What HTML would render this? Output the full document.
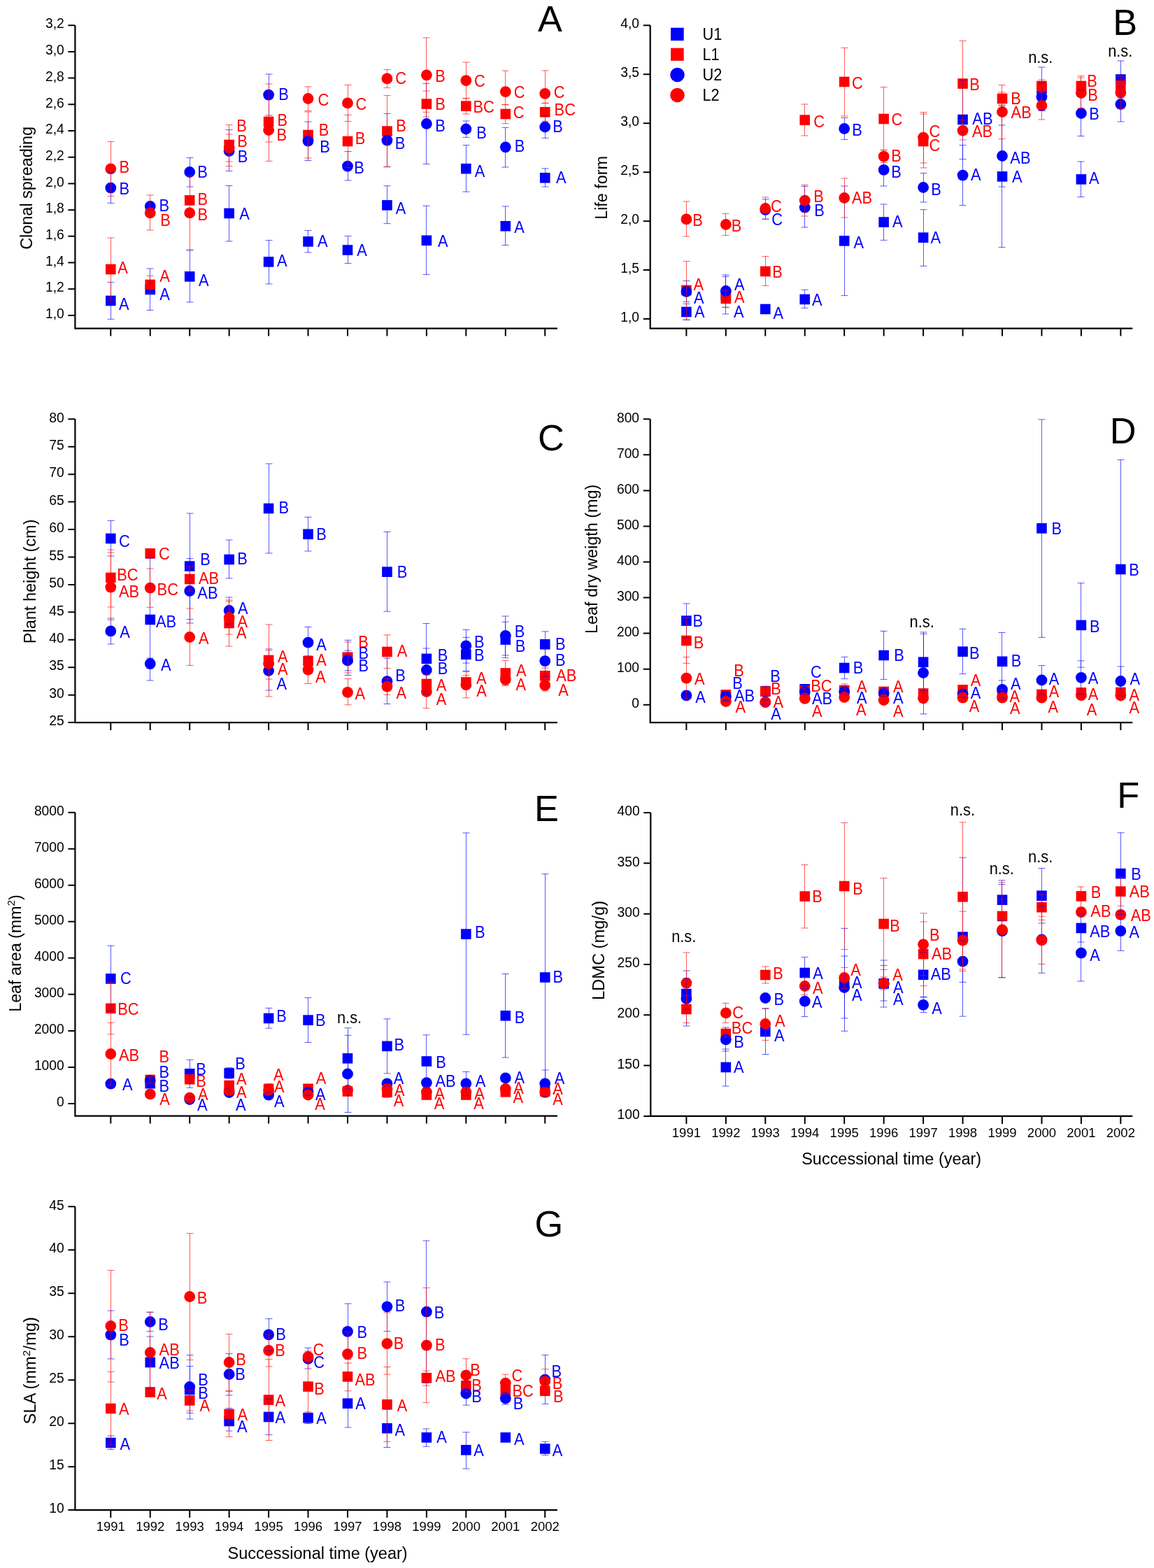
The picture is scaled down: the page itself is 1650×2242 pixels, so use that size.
<!DOCTYPE html>
<html><head><meta charset="utf-8"><title>Figure</title>
<style>
html,body{margin:0;padding:0;background:#fff;}
svg{display:block;}
text{font-family:"Liberation Sans", Arial, sans-serif;}
.tl{font-size:19.3px;text-anchor:end;fill:#000;}
.yl{font-size:18.5px;text-anchor:middle;fill:#000;}
.at{font-size:23px;fill:#000;}
.xt{font-size:23px;fill:#000;}
.pl{font-size:52.3px;fill:#000;}
.lb,.lg,.ns{font-size:23.0px;}
.lg,.ns{fill:#000;}
.b{fill:#0000ff;} .r{fill:#ff0000;}
</style></head>
<body>
<svg width="1650" height="2242" viewBox="0 0 1650 2242">
<rect width="1650" height="2242" fill="#fff"/>
<path d="M107.4 36.2V469.6H797" fill="none" stroke="#000" stroke-width="2.2"/>
<path d="M97.4 451H107.4M97.4 413.29H107.4M97.4 375.58H107.4M97.4 337.87H107.4M97.4 300.16H107.4M97.4 262.45H107.4M97.4 224.75H107.4M97.4 187.04H107.4M97.4 149.33H107.4M97.4 111.62H107.4M97.4 73.91H107.4M97.4 36.2H107.4" stroke="#000" stroke-width="2"/>
<path d="M158.3 469.6V480.6M214.75 469.6V480.6M271.2 469.6V480.6M327.65 469.6V480.6M384.1 469.6V480.6M440.55 469.6V480.6M497 469.6V480.6M553.45 469.6V480.6M609.9 469.6V480.6M666.35 469.6V480.6M722.8 469.6V480.6M779.25 469.6V480.6" stroke="#000" stroke-width="2"/>
<text x="91.8" y="455.2" class="tl">1,0</text>
<text x="91.8" y="417.49" class="tl">1,2</text>
<text x="91.8" y="379.78" class="tl">1,4</text>
<text x="91.8" y="342.07" class="tl">1,6</text>
<text x="91.8" y="304.36" class="tl">1,8</text>
<text x="91.8" y="266.65" class="tl">2,0</text>
<text x="91.8" y="228.95" class="tl">2,2</text>
<text x="91.8" y="191.24" class="tl">2,4</text>
<text x="91.8" y="153.53" class="tl">2,6</text>
<text x="91.8" y="115.82" class="tl">2,8</text>
<text x="91.8" y="78.11" class="tl">3,0</text>
<text x="91.8" y="40.4" class="tl">3,2</text>
<text class="at" textLength="175.75" lengthAdjust="spacingAndGlyphs" transform="translate(46.4 356.79) rotate(-90)">Clonal spreading</text>
<text class="pl" x="769.1" y="45.3">A</text>
<path d="M929.7 36.2V469.6H1619.3" fill="none" stroke="#000" stroke-width="2.2"/>
<path d="M919.7 456.1H929.7M919.7 386.12H929.7M919.7 316.13H929.7M919.7 246.15H929.7M919.7 176.17H929.7M919.7 106.18H929.7M919.7 36.2H929.7" stroke="#000" stroke-width="2"/>
<path d="M981.4 469.6V480.6M1037.85 469.6V480.6M1094.3 469.6V480.6M1150.75 469.6V480.6M1207.2 469.6V480.6M1263.65 469.6V480.6M1320.1 469.6V480.6M1376.55 469.6V480.6M1433 469.6V480.6M1489.45 469.6V480.6M1545.9 469.6V480.6M1602.35 469.6V480.6" stroke="#000" stroke-width="2"/>
<text x="914.1" y="460.3" class="tl">1,0</text>
<text x="914.1" y="390.32" class="tl">1,5</text>
<text x="914.1" y="320.33" class="tl">2,0</text>
<text x="914.1" y="250.35" class="tl">2,5</text>
<text x="914.1" y="180.37" class="tl">3,0</text>
<text x="914.1" y="110.38" class="tl">3,5</text>
<text x="914.1" y="40.4" class="tl">4,0</text>
<text class="at" textLength="90.92" lengthAdjust="spacingAndGlyphs" transform="translate(868.4 313.84) rotate(-90)">Life form</text>
<text class="pl" x="1591.2" y="50.2">B</text>
<path d="M107.4 599.3V1033.1H797" fill="none" stroke="#000" stroke-width="2.2"/>
<path d="M97.4 1033.1H107.4M97.4 993.66H107.4M97.4 954.23H107.4M97.4 914.79H107.4M97.4 875.35H107.4M97.4 835.92H107.4M97.4 796.48H107.4M97.4 757.05H107.4M97.4 717.61H107.4M97.4 678.17H107.4M97.4 638.74H107.4M97.4 599.3H107.4" stroke="#000" stroke-width="2"/>
<path d="M158.3 1033.1V1044.1M214.75 1033.1V1044.1M271.2 1033.1V1044.1M327.65 1033.1V1044.1M384.1 1033.1V1044.1M440.55 1033.1V1044.1M497 1033.1V1044.1M553.45 1033.1V1044.1M609.9 1033.1V1044.1M666.35 1033.1V1044.1M722.8 1033.1V1044.1M779.25 1033.1V1044.1" stroke="#000" stroke-width="2"/>
<text x="91.8" y="1037.3" class="tl">25</text>
<text x="91.8" y="997.86" class="tl">30</text>
<text x="91.8" y="958.43" class="tl">35</text>
<text x="91.8" y="918.99" class="tl">40</text>
<text x="91.8" y="879.55" class="tl">45</text>
<text x="91.8" y="840.12" class="tl">50</text>
<text x="91.8" y="800.68" class="tl">55</text>
<text x="91.8" y="761.25" class="tl">60</text>
<text x="91.8" y="721.81" class="tl">65</text>
<text x="91.8" y="682.37" class="tl">70</text>
<text x="91.8" y="642.94" class="tl">75</text>
<text x="91.8" y="603.5" class="tl">80</text>
<text class="at" textLength="177.69" lengthAdjust="spacingAndGlyphs" transform="translate(51.2 920.2) rotate(-90)">Plant height (cm)</text>
<text class="pl" x="768.9" y="643.8">C</text>
<path d="M929.7 599.3V1033.1H1619.3" fill="none" stroke="#000" stroke-width="2.2"/>
<path d="M919.7 1007.7H929.7M919.7 956.65H929.7M919.7 905.6H929.7M919.7 854.55H929.7M919.7 803.5H929.7M919.7 752.45H929.7M919.7 701.4H929.7M919.7 650.35H929.7M919.7 599.3H929.7" stroke="#000" stroke-width="2"/>
<path d="M981.4 1033.1V1044.1M1037.85 1033.1V1044.1M1094.3 1033.1V1044.1M1150.75 1033.1V1044.1M1207.2 1033.1V1044.1M1263.65 1033.1V1044.1M1320.1 1033.1V1044.1M1376.55 1033.1V1044.1M1433 1033.1V1044.1M1489.45 1033.1V1044.1M1545.9 1033.1V1044.1M1602.35 1033.1V1044.1" stroke="#000" stroke-width="2"/>
<text x="914.1" y="1011.9" class="tl">0</text>
<text x="914.1" y="960.85" class="tl">100</text>
<text x="914.1" y="909.8" class="tl">200</text>
<text x="914.1" y="858.75" class="tl">300</text>
<text x="914.1" y="807.7" class="tl">400</text>
<text x="914.1" y="756.65" class="tl">500</text>
<text x="914.1" y="705.6" class="tl">600</text>
<text x="914.1" y="654.55" class="tl">700</text>
<text x="914.1" y="603.5" class="tl">800</text>
<text class="at" textLength="213.4" lengthAdjust="spacingAndGlyphs" transform="translate(853.5 905.99) rotate(-90)">Leaf dry weigth (mg)</text>
<text class="pl" x="1586.8" y="634.2">D</text>
<path d="M107.4 1161.8V1595.6H797" fill="none" stroke="#000" stroke-width="2.2"/>
<path d="M97.4 1577.9H107.4M97.4 1525.89H107.4M97.4 1473.88H107.4M97.4 1421.86H107.4M97.4 1369.85H107.4M97.4 1317.84H107.4M97.4 1265.82H107.4M97.4 1213.81H107.4M97.4 1161.8H107.4" stroke="#000" stroke-width="2"/>
<path d="M158.3 1595.6V1606.6M214.75 1595.6V1606.6M271.2 1595.6V1606.6M327.65 1595.6V1606.6M384.1 1595.6V1606.6M440.55 1595.6V1606.6M497 1595.6V1606.6M553.45 1595.6V1606.6M609.9 1595.6V1606.6M666.35 1595.6V1606.6M722.8 1595.6V1606.6M779.25 1595.6V1606.6" stroke="#000" stroke-width="2"/>
<text x="91.8" y="1582.1" class="tl">0</text>
<text x="91.8" y="1530.09" class="tl">1000</text>
<text x="91.8" y="1478.08" class="tl">2000</text>
<text x="91.8" y="1426.06" class="tl">3000</text>
<text x="91.8" y="1374.05" class="tl">4000</text>
<text x="91.8" y="1322.04" class="tl">5000</text>
<text x="91.8" y="1270.02" class="tl">6000</text>
<text x="91.8" y="1218.01" class="tl">7000</text>
<text x="91.8" y="1166" class="tl">8000</text>
<text class="at" textLength="167.6" lengthAdjust="spacingAndGlyphs" transform="translate(29.5 1446.8) rotate(-90)">Leaf area (mm<tspan dy="-8.5" font-size="15">2</tspan><tspan dy="8.5">)</tspan></text>
<text class="pl" x="764.1" y="1173.5">E</text>
<path d="M930.3 1162V1595.9H1619.3" fill="none" stroke="#000" stroke-width="2.2"/>
<path d="M920.3 1595.9H930.3M920.3 1523.58H930.3M920.3 1451.27H930.3M920.3 1378.95H930.3M920.3 1306.63H930.3M920.3 1234.32H930.3M920.3 1162H930.3" stroke="#000" stroke-width="2"/>
<path d="M981.4 1595.9V1606.9M1037.85 1595.9V1606.9M1094.3 1595.9V1606.9M1150.75 1595.9V1606.9M1207.2 1595.9V1606.9M1263.65 1595.9V1606.9M1320.1 1595.9V1606.9M1376.55 1595.9V1606.9M1433 1595.9V1606.9M1489.45 1595.9V1606.9M1545.9 1595.9V1606.9M1602.35 1595.9V1606.9" stroke="#000" stroke-width="2"/>
<text x="914.7" y="1600.1" class="tl">100</text>
<text x="914.7" y="1527.78" class="tl">150</text>
<text x="914.7" y="1455.47" class="tl">200</text>
<text x="914.7" y="1383.15" class="tl">250</text>
<text x="914.7" y="1310.83" class="tl">300</text>
<text x="914.7" y="1238.52" class="tl">350</text>
<text x="914.7" y="1166.2" class="tl">400</text>
<text class="at" textLength="142.21" lengthAdjust="spacingAndGlyphs" transform="translate(863.5 1430.12) rotate(-90)">LDMC (mg/g)</text>
<text class="pl" x="1597.2" y="1154.5">F</text>
<path d="M107.4 1725.3V2159.1H797" fill="none" stroke="#000" stroke-width="2.2"/>
<path d="M97.4 2159.1H107.4M97.4 2097.13H107.4M97.4 2035.16H107.4M97.4 1973.19H107.4M97.4 1911.21H107.4M97.4 1849.24H107.4M97.4 1787.27H107.4M97.4 1725.3H107.4" stroke="#000" stroke-width="2"/>
<path d="M158.3 2159.1V2170.1M214.75 2159.1V2170.1M271.2 2159.1V2170.1M327.65 2159.1V2170.1M384.1 2159.1V2170.1M440.55 2159.1V2170.1M497 2159.1V2170.1M553.45 2159.1V2170.1M609.9 2159.1V2170.1M666.35 2159.1V2170.1M722.8 2159.1V2170.1M779.25 2159.1V2170.1" stroke="#000" stroke-width="2"/>
<text x="91.8" y="2163.3" class="tl">10</text>
<text x="91.8" y="2101.33" class="tl">15</text>
<text x="91.8" y="2039.36" class="tl">20</text>
<text x="91.8" y="1977.39" class="tl">25</text>
<text x="91.8" y="1915.41" class="tl">30</text>
<text x="91.8" y="1853.44" class="tl">35</text>
<text x="91.8" y="1791.47" class="tl">40</text>
<text x="91.8" y="1729.5" class="tl">45</text>
<text class="at" textLength="153.41" lengthAdjust="spacingAndGlyphs" transform="translate(51 2036.6) rotate(-90)">SLA (mm<tspan dy="-8.5" font-size="15">2</tspan><tspan dy="8.5">/mg)</tspan></text>
<text class="pl" x="764.4" y="1768.2">G</text>
<rect x="959.1" y="39.7" width="18.6" height="18.4" fill="#0000ff"/>
<rect x="959.1" y="68.7" width="18.6" height="18.2" fill="#ff0000"/>
<circle cx="968.5" cy="107" r="10.3" fill="#0000ff"/>
<circle cx="968.5" cy="136" r="10.3" fill="#ff0000"/>
<text class="lg" transform="translate(1004.52 56.85) scale(0.95 1)">U1</text>
<text class="lg" transform="translate(1004.41 85.65) scale(0.95 1)">L1</text>
<text class="lg" transform="translate(1004.52 114.5) scale(0.95 1)">U2</text>
<text class="lg" transform="translate(1004.41 143.5) scale(0.95 1)">L2</text>
<rect x="151" y="422.7" width="14.6" height="14.6" fill="#0000ff"/>
<rect x="207.45" y="406.7" width="14.6" height="14.6" fill="#0000ff"/>
<rect x="263.9" y="388.1" width="14.6" height="14.6" fill="#0000ff"/>
<rect x="320.35" y="297.7" width="14.6" height="14.6" fill="#0000ff"/>
<rect x="376.8" y="367.1" width="14.6" height="14.6" fill="#0000ff"/>
<rect x="433.25" y="338.1" width="14.6" height="14.6" fill="#0000ff"/>
<rect x="489.7" y="350.2" width="14.6" height="14.6" fill="#0000ff"/>
<rect x="546.15" y="286.1" width="14.6" height="14.6" fill="#0000ff"/>
<rect x="602.6" y="336.5" width="14.6" height="14.6" fill="#0000ff"/>
<rect x="659.05" y="233.9" width="14.6" height="14.6" fill="#0000ff"/>
<rect x="715.5" y="316" width="14.6" height="14.6" fill="#0000ff"/>
<rect x="771.95" y="247" width="14.6" height="14.6" fill="#0000ff"/>
<rect x="151" y="377.7" width="14.6" height="14.6" fill="#ff0000"/>
<rect x="207.45" y="399.7" width="14.6" height="14.6" fill="#ff0000"/>
<rect x="263.9" y="279.1" width="14.6" height="14.6" fill="#ff0000"/>
<rect x="320.35" y="199.7" width="14.6" height="14.6" fill="#ff0000"/>
<rect x="376.8" y="166.7" width="14.6" height="14.6" fill="#ff0000"/>
<rect x="433.25" y="185.7" width="14.6" height="14.6" fill="#ff0000"/>
<rect x="489.7" y="194.7" width="14.6" height="14.6" fill="#ff0000"/>
<rect x="546.15" y="180.3" width="14.6" height="14.6" fill="#ff0000"/>
<rect x="602.6" y="141.3" width="14.6" height="14.6" fill="#ff0000"/>
<rect x="659.05" y="144.4" width="14.6" height="14.6" fill="#ff0000"/>
<rect x="715.5" y="155.7" width="14.6" height="14.6" fill="#ff0000"/>
<rect x="771.95" y="153" width="14.6" height="14.6" fill="#ff0000"/>
<circle cx="158.3" cy="268.6" r="7.9" fill="#0000ff"/>
<circle cx="214.75" cy="295" r="7.9" fill="#0000ff"/>
<circle cx="271.2" cy="246" r="7.9" fill="#0000ff"/>
<circle cx="327.65" cy="216" r="7.9" fill="#0000ff"/>
<circle cx="384.1" cy="135.6" r="7.9" fill="#0000ff"/>
<circle cx="440.55" cy="201.6" r="7.9" fill="#0000ff"/>
<circle cx="497" cy="237.6" r="7.9" fill="#0000ff"/>
<circle cx="553.45" cy="200.6" r="7.9" fill="#0000ff"/>
<circle cx="609.9" cy="177" r="7.9" fill="#0000ff"/>
<circle cx="666.35" cy="184.5" r="7.9" fill="#0000ff"/>
<circle cx="722.8" cy="210.3" r="7.9" fill="#0000ff"/>
<circle cx="779.25" cy="181.5" r="7.9" fill="#0000ff"/>
<circle cx="158.3" cy="241.4" r="7.9" fill="#ff0000"/>
<circle cx="214.75" cy="304.4" r="7.9" fill="#ff0000"/>
<circle cx="271.2" cy="304.4" r="7.9" fill="#ff0000"/>
<circle cx="327.65" cy="211.6" r="7.9" fill="#ff0000"/>
<circle cx="384.1" cy="186" r="7.9" fill="#ff0000"/>
<circle cx="440.55" cy="141" r="7.9" fill="#ff0000"/>
<circle cx="497" cy="147.4" r="7.9" fill="#ff0000"/>
<circle cx="553.45" cy="112.4" r="7.9" fill="#ff0000"/>
<circle cx="609.9" cy="107.3" r="7.9" fill="#ff0000"/>
<circle cx="666.35" cy="115.2" r="7.9" fill="#ff0000"/>
<circle cx="722.8" cy="131.2" r="7.9" fill="#ff0000"/>
<circle cx="779.25" cy="133.8" r="7.9" fill="#ff0000"/>
<path d="M158.5 403.6V456.4M153.5 403.6H163.5M153.5 456.4H163.5M214.5 384V443.6M209.5 384H219.5M209.5 443.6H219.5M271.5 358V432M266.5 358H276.5M266.5 432H276.5M327.5 265.4V345M322.5 265.4H332.5M322.5 345H332.5M384.5 343.6V406M379.5 343.6H389.5M379.5 406H389.5M440.5 329.6V361M435.5 329.6H445.5M435.5 361H445.5M497.5 337.6V376.6M492.5 337.6H502.5M492.5 376.6H502.5M553.5 265.8V319.7M548.5 265.8H558.5M548.5 319.7H558.5M609.5 294.4V392.6M604.5 294.4H614.5M604.5 392.6H614.5M666.5 207.6V274.2M661.5 207.6H671.5M661.5 274.2H671.5M722.5 295V350.5M717.5 295H727.5M717.5 350.5H727.5M779.5 240.9V267.1M774.5 240.9H784.5M774.5 267.1H784.5M158.5 246.6V290.4M153.5 246.6H163.5M153.5 290.4H163.5M214.5 290V300M209.5 290H219.5M209.5 300H219.5M271.5 225.6V267M266.5 225.6H276.5M266.5 267H276.5M327.5 185.6V244.6M322.5 185.6H332.5M322.5 244.6H332.5M384.5 106V165M379.5 106H389.5M379.5 165H389.5M440.5 174V229.6M435.5 174H445.5M435.5 229.6H445.5M497.5 216.6V258M492.5 216.6H502.5M492.5 258H502.5M553.5 162.4V238.6M548.5 162.4H558.5M548.5 238.6H558.5M609.5 119.4V234.5M604.5 119.4H614.5M604.5 234.5H614.5M666.5 172.9V196.4M661.5 172.9H671.5M661.5 196.4H671.5M722.5 182.3V239M717.5 182.3H727.5M717.5 239H727.5M779.5 165.6V197.4M774.5 165.6H784.5M774.5 197.4H784.5" stroke="#0000ff" stroke-opacity="0.65" stroke-width="1" fill="none"/>
<path d="M158.5 340V430M153.5 340H163.5M153.5 430H163.5M214.5 394.4V419.6M209.5 394.4H219.5M209.5 419.6H219.5M271.5 281V292M266.5 281H276.5M266.5 292H276.5M327.5 178.6V237.6M322.5 178.6H332.5M322.5 237.6H332.5M384.5 120V230.4M379.5 120H389.5M379.5 230.4H389.5M440.5 160V226M435.5 160H445.5M435.5 226H445.5M497.5 164.4V239.6M492.5 164.4H502.5M492.5 239.6H502.5M553.5 136.6V238.6M548.5 136.6H558.5M548.5 238.6H558.5M609.5 130V167M604.5 130H614.5M604.5 167H614.5M666.5 140.6V163M661.5 140.6H671.5M661.5 163H671.5M722.5 149.7V176.7M717.5 149.7H727.5M717.5 176.7H727.5M779.5 147.4V173.2M774.5 147.4H784.5M774.5 173.2H784.5M158.5 202.4V280.6M153.5 202.4H163.5M153.5 280.6H163.5M214.5 279V329M209.5 279H219.5M209.5 329H219.5M271.5 251.4V357M266.5 251.4H276.5M266.5 357H276.5M327.5 192V231M322.5 192H332.5M322.5 231H332.5M384.5 169V203M379.5 169H389.5M379.5 203H389.5M440.5 124V158.6M435.5 124H445.5M435.5 158.6H445.5M497.5 121.4V173.6M492.5 121.4H502.5M492.5 173.6H502.5M553.5 99.4V125.6M548.5 99.4H558.5M548.5 125.6H558.5M609.5 54V160.3M604.5 54H614.5M604.5 160.3H614.5M666.5 89V140.6M661.5 89H671.5M661.5 140.6H671.5M722.5 101.2V149.7M717.5 101.2H727.5M717.5 149.7H727.5M779.5 100.9V147.4M774.5 100.9H784.5M774.5 147.4H784.5" stroke="#ff0000" stroke-opacity="0.65" stroke-width="1" fill="none"/>
<text class="lb b" transform="translate(169.96 443) scale(0.95 1)">A</text>
<text class="lb b" transform="translate(228.36 429) scale(0.95 1)">A</text>
<text class="lb b" transform="translate(283.96 409) scale(0.95 1)">A</text>
<text class="lb b" transform="translate(342.36 314) scale(0.95 1)">A</text>
<text class="lb b" transform="translate(395.96 381) scale(0.95 1)">A</text>
<text class="lb b" transform="translate(453.96 353) scale(0.95 1)">A</text>
<text class="lb b" transform="translate(510.36 365.7) scale(0.95 1)">A</text>
<text class="lb b" transform="translate(565.66 305.8) scale(0.95 1)">A</text>
<text class="lb b" transform="translate(625.96 353.3) scale(0.95 1)">A</text>
<text class="lb b" transform="translate(678.76 253) scale(0.95 1)">A</text>
<text class="lb b" transform="translate(735.26 333.3) scale(0.95 1)">A</text>
<text class="lb b" transform="translate(794.96 262) scale(0.95 1)">A</text>
<text class="lb r" transform="translate(168.36 390.6) scale(0.95 1)">A</text>
<text class="lb r" transform="translate(228.36 402.6) scale(0.95 1)">A</text>
<text class="lb r" transform="translate(282.61 293) scale(0.95 1)">B</text>
<text class="lb r" transform="translate(339.21 210) scale(0.95 1)">B</text>
<text class="lb r" transform="translate(396.61 180) scale(0.95 1)">B</text>
<text class="lb r" transform="translate(455.81 194) scale(0.95 1)">B</text>
<text class="lb r" transform="translate(507.81 206) scale(0.95 1)">B</text>
<text class="lb r" transform="translate(566.21 188) scale(0.95 1)">B</text>
<text class="lb r" transform="translate(622.21 156.8) scale(0.95 1)">B</text>
<text class="lb r" transform="translate(676.41 161.3) scale(0.95 1)">BC</text>
<text class="lb r" transform="translate(733.69 169.2) scale(0.95 1)">C</text>
<text class="lb r" transform="translate(792.61 165) scale(0.95 1)">BC</text>
<text class="lb b" transform="translate(170.61 278.4) scale(0.95 1)">B</text>
<text class="lb b" transform="translate(227.61 302.4) scale(0.95 1)">B</text>
<text class="lb b" transform="translate(282.21 254.4) scale(0.95 1)">B</text>
<text class="lb b" transform="translate(339.81 232) scale(0.95 1)">B</text>
<text class="lb b" transform="translate(398.21 143.4) scale(0.95 1)">B</text>
<text class="lb b" transform="translate(457.21 218) scale(0.95 1)">B</text>
<text class="lb b" transform="translate(506.21 248) scale(0.95 1)">B</text>
<text class="lb b" transform="translate(564.81 213) scale(0.95 1)">B</text>
<text class="lb b" transform="translate(622.21 187.8) scale(0.95 1)">B</text>
<text class="lb b" transform="translate(681.21 197.7) scale(0.95 1)">B</text>
<text class="lb b" transform="translate(735.81 217) scale(0.95 1)">B</text>
<text class="lb b" transform="translate(790.21 189.3) scale(0.95 1)">B</text>
<text class="lb r" transform="translate(170.61 247) scale(0.95 1)">B</text>
<text class="lb r" transform="translate(229.21 323.4) scale(0.95 1)">B</text>
<text class="lb r" transform="translate(282.61 315) scale(0.95 1)">B</text>
<text class="lb r" transform="translate(338.21 188) scale(0.95 1)">B</text>
<text class="lb r" transform="translate(395.61 201.4) scale(0.95 1)">B</text>
<text class="lb r" transform="translate(454.49 151) scale(0.95 1)">C</text>
<text class="lb r" transform="translate(508.49 157) scale(0.95 1)">C</text>
<text class="lb r" transform="translate(565.29 120) scale(0.95 1)">C</text>
<text class="lb r" transform="translate(622.21 116.6) scale(0.95 1)">B</text>
<text class="lb r" transform="translate(678.09 123.7) scale(0.95 1)">C</text>
<text class="lb r" transform="translate(734.69 140.4) scale(0.95 1)">C</text>
<text class="lb r" transform="translate(791.79 140.4) scale(0.95 1)">C</text>
<rect x="974.1" y="438.7" width="14.6" height="14.6" fill="#0000ff"/>
<rect x="1030.55" y="414.7" width="14.6" height="14.6" fill="#0000ff"/>
<rect x="1087" y="434.7" width="14.6" height="14.6" fill="#0000ff"/>
<rect x="1143.45" y="420.7" width="14.6" height="14.6" fill="#0000ff"/>
<rect x="1199.9" y="337.1" width="14.6" height="14.6" fill="#0000ff"/>
<rect x="1256.35" y="310.3" width="14.6" height="14.6" fill="#0000ff"/>
<rect x="1312.8" y="332.4" width="14.6" height="14.6" fill="#0000ff"/>
<rect x="1369.25" y="163.7" width="14.6" height="14.6" fill="#0000ff"/>
<rect x="1425.7" y="245.1" width="14.6" height="14.6" fill="#0000ff"/>
<rect x="1482.15" y="119.7" width="14.6" height="14.6" fill="#0000ff"/>
<rect x="1538.6" y="249.1" width="14.6" height="14.6" fill="#0000ff"/>
<rect x="1595.05" y="106.2" width="14.6" height="14.6" fill="#0000ff"/>
<rect x="974.1" y="407.7" width="14.6" height="14.6" fill="#ff0000"/>
<rect x="1030.55" y="419.7" width="14.6" height="14.6" fill="#ff0000"/>
<rect x="1087" y="380.7" width="14.6" height="14.6" fill="#ff0000"/>
<rect x="1143.45" y="164.3" width="14.6" height="14.6" fill="#ff0000"/>
<rect x="1199.9" y="109.7" width="14.6" height="14.6" fill="#ff0000"/>
<rect x="1256.35" y="162.7" width="14.6" height="14.6" fill="#ff0000"/>
<rect x="1312.8" y="194.7" width="14.6" height="14.6" fill="#ff0000"/>
<rect x="1369.25" y="112.3" width="14.6" height="14.6" fill="#ff0000"/>
<rect x="1425.7" y="133.7" width="14.6" height="14.6" fill="#ff0000"/>
<rect x="1482.15" y="115.7" width="14.6" height="14.6" fill="#ff0000"/>
<rect x="1538.6" y="115.7" width="14.6" height="14.6" fill="#ff0000"/>
<rect x="1595.05" y="115.1" width="14.6" height="14.6" fill="#ff0000"/>
<circle cx="981.4" cy="417" r="7.9" fill="#0000ff"/>
<circle cx="1037.85" cy="416" r="7.9" fill="#0000ff"/>
<circle cx="1094.3" cy="300" r="7.9" fill="#0000ff"/>
<circle cx="1150.75" cy="296.6" r="7.9" fill="#0000ff"/>
<circle cx="1207.2" cy="184" r="7.9" fill="#0000ff"/>
<circle cx="1263.65" cy="242.8" r="7.9" fill="#0000ff"/>
<circle cx="1320.1" cy="268" r="7.9" fill="#0000ff"/>
<circle cx="1376.55" cy="250.6" r="7.9" fill="#0000ff"/>
<circle cx="1433" cy="223" r="7.9" fill="#0000ff"/>
<circle cx="1489.45" cy="138.6" r="7.9" fill="#0000ff"/>
<circle cx="1545.9" cy="162" r="7.9" fill="#0000ff"/>
<circle cx="1602.35" cy="149" r="7.9" fill="#0000ff"/>
<circle cx="981.4" cy="313.4" r="7.9" fill="#ff0000"/>
<circle cx="1037.85" cy="321" r="7.9" fill="#ff0000"/>
<circle cx="1094.3" cy="298" r="7.9" fill="#ff0000"/>
<circle cx="1150.75" cy="286.6" r="7.9" fill="#ff0000"/>
<circle cx="1207.2" cy="283" r="7.9" fill="#ff0000"/>
<circle cx="1263.65" cy="223.6" r="7.9" fill="#ff0000"/>
<circle cx="1320.1" cy="196.6" r="7.9" fill="#ff0000"/>
<circle cx="1376.55" cy="186.6" r="7.9" fill="#ff0000"/>
<circle cx="1433" cy="160" r="7.9" fill="#ff0000"/>
<circle cx="1489.45" cy="151" r="7.9" fill="#ff0000"/>
<circle cx="1545.9" cy="133" r="7.9" fill="#ff0000"/>
<circle cx="1602.35" cy="132.4" r="7.9" fill="#ff0000"/>
<path d="M981.5 434.4V457.6M976.5 434.4H986.5M976.5 457.6H986.5M1037.5 395.4V449M1032.5 395.4H1042.5M1032.5 449H1042.5M1094.5 438V446M1089.5 438H1099.5M1089.5 446H1099.5M1150.5 414.4V440.4M1145.5 414.4H1155.5M1145.5 440.4H1155.5M1207.5 266V422.6M1202.5 266H1212.5M1202.5 422.6H1212.5M1263.5 292V343.4M1258.5 292H1268.5M1258.5 343.4H1268.5M1320.5 299.7V380.4M1315.5 299.7H1325.5M1315.5 380.4H1325.5M1376.5 114.4V227.6M1371.5 114.4H1381.5M1371.5 227.6H1381.5M1432.5 151V353.7M1427.5 151H1437.5M1427.5 353.7H1437.5M1489.5 96V158M1484.5 96H1494.5M1484.5 158H1494.5M1545.5 231V281.6M1540.5 231H1550.5M1540.5 281.6H1550.5M1602.5 87V140M1597.5 87H1607.5M1597.5 140H1607.5M981.5 401.6V431.6M976.5 401.6H986.5M976.5 431.6H986.5M1037.5 393V439.4M1032.5 393H1042.5M1032.5 439.4H1042.5M1094.5 285V313M1089.5 285H1099.5M1089.5 313H1099.5M1150.5 266.4V325M1145.5 266.4H1155.5M1145.5 325H1155.5M1207.5 168.4V199.4M1202.5 168.4H1212.5M1202.5 199.4H1212.5M1263.5 219.4V266M1258.5 219.4H1268.5M1258.5 266H1268.5M1320.5 247.6V289M1315.5 247.6H1325.5M1315.5 289H1325.5M1376.5 207.6V293.6M1371.5 207.6H1381.5M1371.5 293.6H1381.5M1432.5 179V267M1427.5 179H1437.5M1427.5 267H1437.5M1489.5 119V158M1484.5 119H1494.5M1484.5 158H1494.5M1545.5 128.4V194.6M1540.5 128.4H1550.5M1540.5 194.6H1550.5M1602.5 124V174M1597.5 124H1607.5M1597.5 174H1607.5" stroke="#0000ff" stroke-opacity="0.65" stroke-width="1" fill="none"/>
<path d="M981.5 373.6V457M976.5 373.6H986.5M976.5 457H986.5M1037.5 415V439.4M1032.5 415H1042.5M1032.5 439.4H1042.5M1094.5 366.6V408.4M1089.5 366.6H1099.5M1089.5 408.4H1099.5M1150.5 149V194M1145.5 149H1155.5M1145.5 194H1155.5M1207.5 68.4V166M1202.5 68.4H1212.5M1202.5 166H1212.5M1263.5 124.6V214.6M1258.5 124.6H1268.5M1258.5 214.6H1268.5M1320.5 163V240M1315.5 163H1325.5M1315.5 240H1325.5M1376.5 58.4V180.8M1371.5 58.4H1381.5M1371.5 180.8H1381.5M1432.5 132V150M1427.5 132H1437.5M1427.5 150H1437.5M1489.5 114V132M1484.5 114H1494.5M1484.5 132H1494.5M1545.5 108.6V137.4M1540.5 108.6H1550.5M1540.5 137.4H1550.5M1602.5 118V127M1597.5 118H1607.5M1597.5 127H1607.5M981.5 288V338M976.5 288H986.5M976.5 338H986.5M1037.5 305.4V336.6M1032.5 305.4H1042.5M1032.5 336.6H1042.5M1094.5 282V313.6M1089.5 282H1099.5M1089.5 313.6H1099.5M1150.5 264.4V309M1145.5 264.4H1155.5M1145.5 309H1155.5M1207.5 255V311M1202.5 255H1212.5M1202.5 311H1212.5M1263.5 214.6V232.6M1258.5 214.6H1268.5M1258.5 232.6H1268.5M1320.5 160.6V233M1315.5 160.6H1325.5M1315.5 233H1325.5M1376.5 171.6V200M1371.5 171.6H1381.5M1371.5 200H1381.5M1432.5 121.6V198.6M1427.5 121.6H1437.5M1427.5 198.6H1437.5M1489.5 131V171M1484.5 131H1494.5M1484.5 171H1494.5M1545.5 111V155M1540.5 111H1550.5M1540.5 155H1550.5M1602.5 109V155.6M1597.5 109H1607.5M1597.5 155.6H1607.5" stroke="#ff0000" stroke-opacity="0.65" stroke-width="1" fill="none"/>
<text class="lb b" transform="translate(992.96 454) scale(0.95 1)">A</text>
<text class="lb b" transform="translate(1048.96 454) scale(0.95 1)">A</text>
<text class="lb b" transform="translate(1105.56 456) scale(0.95 1)">A</text>
<text class="lb b" transform="translate(1160.96 437) scale(0.95 1)">A</text>
<text class="lb b" transform="translate(1220.56 355) scale(0.95 1)">A</text>
<text class="lb b" transform="translate(1275.96 324.6) scale(0.95 1)">A</text>
<text class="lb b" transform="translate(1330.46 348.3) scale(0.95 1)">A</text>
<text class="lb b" transform="translate(1390.36 178) scale(0.95 1)">AB</text>
<text class="lb b" transform="translate(1446.96 261) scale(0.95 1)">A</text>
<text class="lb b" transform="translate(1556.96 263.4) scale(0.95 1)">A</text>
<text class="lb r" transform="translate(991.56 415) scale(0.95 1)">A</text>
<text class="lb r" transform="translate(1049.96 432.6) scale(0.95 1)">A</text>
<text class="lb r" transform="translate(1104.21 397) scale(0.95 1)">B</text>
<text class="lb r" transform="translate(1163.29 182) scale(0.95 1)">C</text>
<text class="lb r" transform="translate(1217.89 127) scale(0.95 1)">C</text>
<text class="lb r" transform="translate(1274.49 178.6) scale(0.95 1)">C</text>
<text class="lb r" transform="translate(1328.49 216) scale(0.95 1)">C</text>
<text class="lb r" transform="translate(1386.21 128.6) scale(0.95 1)">B</text>
<text class="lb r" transform="translate(1445.21 149) scale(0.95 1)">B</text>
<text class="lb r" transform="translate(1554.21 124) scale(0.95 1)">B</text>
<text class="lb b" transform="translate(991.96 434) scale(0.95 1)">A</text>
<text class="lb b" transform="translate(1049.96 415) scale(0.95 1)">A</text>
<text class="lb b" transform="translate(1103.29 322) scale(0.95 1)">C</text>
<text class="lb b" transform="translate(1164.21 309.4) scale(0.95 1)">B</text>
<text class="lb b" transform="translate(1218.21 194) scale(0.95 1)">B</text>
<text class="lb b" transform="translate(1274.21 254) scale(0.95 1)">B</text>
<text class="lb b" transform="translate(1331.21 279) scale(0.95 1)">B</text>
<text class="lb b" transform="translate(1387.96 258) scale(0.95 1)">A</text>
<text class="lb b" transform="translate(1444.36 234) scale(0.95 1)">AB</text>
<text class="lb b" transform="translate(1557.21 171) scale(0.95 1)">B</text>
<text class="lb r" transform="translate(990.21 323.4) scale(0.95 1)">B</text>
<text class="lb r" transform="translate(1045.81 331.4) scale(0.95 1)">B</text>
<text class="lb r" transform="translate(1101.89 302.6) scale(0.95 1)">C</text>
<text class="lb r" transform="translate(1163.21 288.6) scale(0.95 1)">B</text>
<text class="lb r" transform="translate(1217.96 290.6) scale(0.95 1)">AB</text>
<text class="lb r" transform="translate(1274.21 230.5) scale(0.95 1)">B</text>
<text class="lb r" transform="translate(1328.49 196) scale(0.95 1)">C</text>
<text class="lb r" transform="translate(1389.96 196) scale(0.95 1)">AB</text>
<text class="lb r" transform="translate(1445.56 169) scale(0.95 1)">AB</text>
<text class="lb r" transform="translate(1555.21 144) scale(0.95 1)">B</text>
<text class="ns" transform="translate(1470.16 90) scale(0.95 1)">n.s.</text>
<text class="ns" transform="translate(1584.16 80.6) scale(0.95 1)">n.s.</text>
<rect x="151" y="762.7" width="14.6" height="14.6" fill="#0000ff"/>
<rect x="207.45" y="878.7" width="14.6" height="14.6" fill="#0000ff"/>
<rect x="263.9" y="802.3" width="14.6" height="14.6" fill="#0000ff"/>
<rect x="320.35" y="792.7" width="14.6" height="14.6" fill="#0000ff"/>
<rect x="376.8" y="719.7" width="14.6" height="14.6" fill="#0000ff"/>
<rect x="433.25" y="756.5" width="14.6" height="14.6" fill="#0000ff"/>
<rect x="489.7" y="932.7" width="14.6" height="14.6" fill="#0000ff"/>
<rect x="546.15" y="810.4" width="14.6" height="14.6" fill="#0000ff"/>
<rect x="602.6" y="934.6" width="14.6" height="14.6" fill="#0000ff"/>
<rect x="659.05" y="928.4" width="14.6" height="14.6" fill="#0000ff"/>
<rect x="715.5" y="907.3" width="14.6" height="14.6" fill="#0000ff"/>
<rect x="771.95" y="914" width="14.6" height="14.6" fill="#0000ff"/>
<rect x="151" y="818.7" width="14.6" height="14.6" fill="#ff0000"/>
<rect x="207.45" y="784.1" width="14.6" height="14.6" fill="#ff0000"/>
<rect x="263.9" y="820.7" width="14.6" height="14.6" fill="#ff0000"/>
<rect x="320.35" y="883.7" width="14.6" height="14.6" fill="#ff0000"/>
<rect x="376.8" y="936.7" width="14.6" height="14.6" fill="#ff0000"/>
<rect x="433.25" y="937.8" width="14.6" height="14.6" fill="#ff0000"/>
<rect x="489.7" y="932.7" width="14.6" height="14.6" fill="#ff0000"/>
<rect x="546.15" y="924.7" width="14.6" height="14.6" fill="#ff0000"/>
<rect x="602.6" y="970.7" width="14.6" height="14.6" fill="#ff0000"/>
<rect x="659.05" y="968.2" width="14.6" height="14.6" fill="#ff0000"/>
<rect x="715.5" y="955.2" width="14.6" height="14.6" fill="#ff0000"/>
<rect x="771.95" y="959" width="14.6" height="14.6" fill="#ff0000"/>
<circle cx="158.3" cy="902.4" r="7.9" fill="#0000ff"/>
<circle cx="214.75" cy="949" r="7.9" fill="#0000ff"/>
<circle cx="271.2" cy="845" r="7.9" fill="#0000ff"/>
<circle cx="327.65" cy="873" r="7.9" fill="#0000ff"/>
<circle cx="384.1" cy="959" r="7.9" fill="#0000ff"/>
<circle cx="440.55" cy="918.7" r="7.9" fill="#0000ff"/>
<circle cx="497" cy="944.4" r="7.9" fill="#0000ff"/>
<circle cx="553.45" cy="974.2" r="7.9" fill="#0000ff"/>
<circle cx="609.9" cy="958" r="7.9" fill="#0000ff"/>
<circle cx="666.35" cy="923.3" r="7.9" fill="#0000ff"/>
<circle cx="722.8" cy="908.9" r="7.9" fill="#0000ff"/>
<circle cx="779.25" cy="945.1" r="7.9" fill="#0000ff"/>
<circle cx="158.3" cy="839.6" r="7.9" fill="#ff0000"/>
<circle cx="214.75" cy="840.6" r="7.9" fill="#ff0000"/>
<circle cx="271.2" cy="911" r="7.9" fill="#ff0000"/>
<circle cx="327.65" cy="883" r="7.9" fill="#ff0000"/>
<circle cx="384.1" cy="949" r="7.9" fill="#ff0000"/>
<circle cx="440.55" cy="957.6" r="7.9" fill="#ff0000"/>
<circle cx="497" cy="989.9" r="7.9" fill="#ff0000"/>
<circle cx="553.45" cy="981.7" r="7.9" fill="#ff0000"/>
<circle cx="609.9" cy="989" r="7.9" fill="#ff0000"/>
<circle cx="666.35" cy="979.2" r="7.9" fill="#ff0000"/>
<circle cx="722.8" cy="971.7" r="7.9" fill="#ff0000"/>
<circle cx="779.25" cy="979.9" r="7.9" fill="#ff0000"/>
<path d="M158.5 744.4V795M153.5 744.4H163.5M153.5 795H163.5M214.5 798V973M209.5 798H219.5M209.5 973H219.5M271.5 734V885.6M266.5 734H276.5M266.5 885.6H276.5M327.5 772V827M322.5 772H332.5M322.5 827H332.5M384.5 663V791M379.5 663H389.5M379.5 791H389.5M440.5 739.4V788M435.5 739.4H445.5M435.5 788H445.5M497.5 915.3V965.5M492.5 915.3H502.5M492.5 965.5H502.5M553.5 760.5V874.3M548.5 760.5H558.5M548.5 874.3H558.5M609.5 891.5V992.3M604.5 891.5H614.5M604.5 992.3H614.5M666.5 911.3V959.3M661.5 911.3H671.5M661.5 959.3H671.5M722.5 889.2V940.7M717.5 889.2H727.5M717.5 940.7H727.5M779.5 902.9V939.7M774.5 902.9H784.5M774.5 939.7H784.5M158.5 884V921M153.5 884H163.5M153.5 921H163.5M214.5 941V956M209.5 941H219.5M209.5 956H219.5M271.5 798.6V891M266.5 798.6H276.5M266.5 891H276.5M327.5 854V892M322.5 854H332.5M322.5 892H332.5M384.5 928V987M379.5 928H389.5M379.5 987H389.5M440.5 896.4V940.7M435.5 896.4H445.5M435.5 940.7H445.5M497.5 930.2V958.8M492.5 930.2H502.5M492.5 958.8H502.5M553.5 941.2V1006.5M548.5 941.2H558.5M548.5 1006.5H558.5M609.5 927V989M604.5 927H614.5M604.5 989H614.5M666.5 900.4V948.1M661.5 900.4H671.5M661.5 948.1H671.5M722.5 881V937M717.5 881H727.5M717.5 937H727.5M779.5 922.7V967.5M774.5 922.7H784.5M774.5 967.5H784.5" stroke="#0000ff" stroke-opacity="0.65" stroke-width="1" fill="none"/>
<path d="M158.5 786V868M153.5 786H163.5M153.5 868H163.5M214.5 788V795M209.5 788H219.5M209.5 795H219.5M271.5 810V845M266.5 810H276.5M266.5 845H276.5M327.5 858V924M322.5 858H332.5M322.5 924H332.5M384.5 893V996M379.5 893H389.5M379.5 996H389.5M440.5 940V950M435.5 940H445.5M435.5 950H445.5M497.5 918V962M492.5 918H502.5M492.5 962H502.5M553.5 907.9V955.6M548.5 907.9H558.5M548.5 955.6H558.5M609.5 972V984M604.5 972H614.5M604.5 984H614.5M666.5 965.5V985.5M661.5 965.5H671.5M661.5 985.5H671.5M722.5 944.4V980.6M717.5 944.4H727.5M717.5 980.6H727.5M779.5 955V977.6M774.5 955H784.5M774.5 977.6H784.5M158.5 790V886.4M153.5 790H163.5M153.5 886.4H163.5M214.5 813V868.4M209.5 813H219.5M209.5 868.4H219.5M271.5 870V951.4M266.5 870H276.5M266.5 951.4H276.5M327.5 860V907M322.5 860H332.5M322.5 907H332.5M384.5 930V971M379.5 930H389.5M379.5 971H389.5M440.5 937.7V977.5M435.5 937.7H445.5M435.5 977.5H445.5M497.5 970.5V1007.8M492.5 970.5H502.5M492.5 1007.8H502.5M553.5 970V993.4M548.5 970H558.5M548.5 993.4H558.5M609.5 965V1012.7M604.5 965H614.5M604.5 1012.7H614.5M666.5 960.5V997.8M661.5 960.5H671.5M661.5 997.8H671.5M722.5 964V979.2M717.5 964H727.5M717.5 979.2H727.5M779.5 972V988M774.5 972H784.5M774.5 988H784.5" stroke="#ff0000" stroke-opacity="0.65" stroke-width="1" fill="none"/>
<text class="lb b" transform="translate(169.89 782) scale(0.95 1)">C</text>
<text class="lb b" transform="translate(222.96 896.6) scale(0.95 1)">AB</text>
<text class="lb b" transform="translate(286.21 808) scale(0.95 1)">B</text>
<text class="lb b" transform="translate(339.21 807) scale(0.95 1)">B</text>
<text class="lb b" transform="translate(398.61 734) scale(0.95 1)">B</text>
<text class="lb b" transform="translate(452.21 772) scale(0.95 1)">B</text>
<text class="lb b" transform="translate(512.61 959.6) scale(0.95 1)">B</text>
<text class="lb b" transform="translate(567.81 826) scale(0.95 1)">B</text>
<text class="lb b" transform="translate(625.71 944.6) scale(0.95 1)">B</text>
<text class="lb b" transform="translate(677.91 944.6) scale(0.95 1)">B</text>
<text class="lb b" transform="translate(736.81 931.7) scale(0.95 1)">B</text>
<text class="lb b" transform="translate(793.91 929.2) scale(0.95 1)">B</text>
<text class="lb r" transform="translate(167.21 830) scale(0.95 1)">BC</text>
<text class="lb r" transform="translate(226.89 800) scale(0.95 1)">C</text>
<text class="lb r" transform="translate(283.96 835) scale(0.95 1)">AB</text>
<text class="lb r" transform="translate(337.96 913) scale(0.95 1)">A</text>
<text class="lb r" transform="translate(396.96 947) scale(0.95 1)">A</text>
<text class="lb r" transform="translate(452.26 952) scale(0.95 1)">A</text>
<text class="lb r" transform="translate(512.21 925.5) scale(0.95 1)">B</text>
<text class="lb r" transform="translate(567.76 939.2) scale(0.95 1)">A</text>
<text class="lb r" transform="translate(623.76 987.6) scale(0.95 1)">A</text>
<text class="lb r" transform="translate(680.96 978.4) scale(0.95 1)">A</text>
<text class="lb r" transform="translate(737.96 967) scale(0.95 1)">A</text>
<text class="lb r" transform="translate(795.16 974) scale(0.95 1)">AB</text>
<text class="lb b" transform="translate(171.36 912) scale(0.95 1)">A</text>
<text class="lb b" transform="translate(229.96 959) scale(0.95 1)">A</text>
<text class="lb b" transform="translate(282.36 856) scale(0.95 1)">AB</text>
<text class="lb b" transform="translate(339.96 878) scale(0.95 1)">A</text>
<text class="lb b" transform="translate(395.56 986) scale(0.95 1)">A</text>
<text class="lb b" transform="translate(452.26 929.5) scale(0.95 1)">A</text>
<text class="lb b" transform="translate(512.61 942.2) scale(0.95 1)">B</text>
<text class="lb b" transform="translate(565.31 974) scale(0.95 1)">B</text>
<text class="lb b" transform="translate(625.71 963.5) scale(0.95 1)">B</text>
<text class="lb b" transform="translate(677.91 925.5) scale(0.95 1)">B</text>
<text class="lb b" transform="translate(735.81 910.6) scale(0.95 1)">B</text>
<text class="lb b" transform="translate(793.91 951.6) scale(0.95 1)">B</text>
<text class="lb r" transform="translate(169.96 854) scale(0.95 1)">AB</text>
<text class="lb r" transform="translate(224.61 851) scale(0.95 1)">BC</text>
<text class="lb r" transform="translate(283.96 921) scale(0.95 1)">A</text>
<text class="lb r" transform="translate(339.56 896.6) scale(0.95 1)">A</text>
<text class="lb r" transform="translate(396.96 964.6) scale(0.95 1)">A</text>
<text class="lb r" transform="translate(450.96 976) scale(0.95 1)">A</text>
<text class="lb r" transform="translate(507.46 1000) scale(0.95 1)">A</text>
<text class="lb r" transform="translate(566.56 998.8) scale(0.95 1)">A</text>
<text class="lb r" transform="translate(623.76 1007.5) scale(0.95 1)">A</text>
<text class="lb r" transform="translate(681.36 995.8) scale(0.95 1)">A</text>
<text class="lb r" transform="translate(737.56 987.1) scale(0.95 1)">A</text>
<text class="lb r" transform="translate(798.16 995.1) scale(0.95 1)">A</text>
<rect x="974.1" y="880.3" width="14.6" height="14.6" fill="#0000ff"/>
<rect x="1030.55" y="987.7" width="14.6" height="14.6" fill="#0000ff"/>
<rect x="1087" y="981.2" width="14.6" height="14.6" fill="#0000ff"/>
<rect x="1143.45" y="978" width="14.6" height="14.6" fill="#0000ff"/>
<rect x="1199.9" y="947.7" width="14.6" height="14.6" fill="#0000ff"/>
<rect x="1256.35" y="929.7" width="14.6" height="14.6" fill="#0000ff"/>
<rect x="1312.8" y="939.4" width="14.6" height="14.6" fill="#0000ff"/>
<rect x="1369.25" y="924.4" width="14.6" height="14.6" fill="#0000ff"/>
<rect x="1425.7" y="938.5" width="14.6" height="14.6" fill="#0000ff"/>
<rect x="1482.15" y="748.1" width="14.6" height="14.6" fill="#0000ff"/>
<rect x="1538.6" y="886.6" width="14.6" height="14.6" fill="#0000ff"/>
<rect x="1595.05" y="806.7" width="14.6" height="14.6" fill="#0000ff"/>
<rect x="974.1" y="908.7" width="14.6" height="14.6" fill="#ff0000"/>
<rect x="1030.55" y="986.1" width="14.6" height="14.6" fill="#ff0000"/>
<rect x="1087" y="981.1" width="14.6" height="14.6" fill="#ff0000"/>
<rect x="1143.45" y="980.3" width="14.6" height="14.6" fill="#ff0000"/>
<rect x="1199.9" y="979.7" width="14.6" height="14.6" fill="#ff0000"/>
<rect x="1256.35" y="981.7" width="14.6" height="14.6" fill="#ff0000"/>
<rect x="1312.8" y="984.2" width="14.6" height="14.6" fill="#ff0000"/>
<rect x="1369.25" y="979" width="14.6" height="14.6" fill="#ff0000"/>
<rect x="1425.7" y="982.7" width="14.6" height="14.6" fill="#ff0000"/>
<rect x="1482.15" y="985.6" width="14.6" height="14.6" fill="#ff0000"/>
<rect x="1538.6" y="983.1" width="14.6" height="14.6" fill="#ff0000"/>
<rect x="1595.05" y="982.7" width="14.6" height="14.6" fill="#ff0000"/>
<circle cx="981.4" cy="994.4" r="7.9" fill="#0000ff"/>
<circle cx="1037.85" cy="996" r="7.9" fill="#0000ff"/>
<circle cx="1094.3" cy="1004" r="7.9" fill="#0000ff"/>
<circle cx="1150.75" cy="989" r="7.9" fill="#0000ff"/>
<circle cx="1207.2" cy="989" r="7.9" fill="#0000ff"/>
<circle cx="1263.65" cy="991" r="7.9" fill="#0000ff"/>
<circle cx="1320.1" cy="962" r="7.9" fill="#0000ff"/>
<circle cx="1376.55" cy="992.5" r="7.9" fill="#0000ff"/>
<circle cx="1433" cy="985.9" r="7.9" fill="#0000ff"/>
<circle cx="1489.45" cy="972.5" r="7.9" fill="#0000ff"/>
<circle cx="1545.9" cy="968.8" r="7.9" fill="#0000ff"/>
<circle cx="1602.35" cy="974" r="7.9" fill="#0000ff"/>
<circle cx="981.4" cy="969.6" r="7.9" fill="#ff0000"/>
<circle cx="1037.85" cy="1003" r="7.9" fill="#ff0000"/>
<circle cx="1094.3" cy="1004" r="7.9" fill="#ff0000"/>
<circle cx="1150.75" cy="998.8" r="7.9" fill="#ff0000"/>
<circle cx="1207.2" cy="997" r="7.9" fill="#ff0000"/>
<circle cx="1263.65" cy="1001" r="7.9" fill="#ff0000"/>
<circle cx="1320.1" cy="998.3" r="7.9" fill="#ff0000"/>
<circle cx="1376.55" cy="997.6" r="7.9" fill="#ff0000"/>
<circle cx="1433" cy="997.6" r="7.9" fill="#ff0000"/>
<circle cx="1489.45" cy="997.6" r="7.9" fill="#ff0000"/>
<circle cx="1545.9" cy="994.1" r="7.9" fill="#ff0000"/>
<circle cx="1602.35" cy="994.5" r="7.9" fill="#ff0000"/>
<path d="M981.5 863V912M976.5 863H986.5M976.5 912H986.5M1037.5 989V1001M1032.5 989H1042.5M1032.5 1001H1042.5M1094.5 981.2V995.9M1089.5 981.2H1099.5M1089.5 995.9H1099.5M1150.5 982V988.6M1145.5 982H1155.5M1145.5 988.6H1155.5M1207.5 939.4V970.6M1202.5 939.4H1212.5M1202.5 970.6H1212.5M1263.5 902.4V971.4M1258.5 902.4H1268.5M1258.5 971.4H1268.5M1320.5 903.9V987.3M1315.5 903.9H1325.5M1315.5 987.3H1325.5M1376.5 899.3V963.6M1371.5 899.3H1381.5M1371.5 963.6H1381.5M1432.5 904.5V987M1427.5 904.5H1437.5M1427.5 987H1437.5M1489.5 599.8V911.4M1484.5 599.8H1494.5M1484.5 911.4H1494.5M1545.5 833.7V954.2M1540.5 833.7H1550.5M1540.5 954.2H1550.5M1602.5 657.4V970.8M1597.5 657.4H1607.5M1597.5 970.8H1607.5M981.5 990V999M976.5 990H986.5M976.5 999H986.5M1037.5 990V1002M1032.5 990H1042.5M1032.5 1002H1042.5M1094.5 1001V1007M1089.5 1001H1099.5M1089.5 1007H1099.5M1150.5 985V993M1145.5 985H1155.5M1145.5 993H1155.5M1207.5 985V993M1202.5 985H1212.5M1202.5 993H1212.5M1263.5 986V996M1258.5 986H1268.5M1258.5 996H1268.5M1320.5 906.3V1020.9M1315.5 906.3H1325.5M1315.5 1020.9H1325.5M1376.5 988V997M1371.5 988H1381.5M1371.5 997H1381.5M1432.5 972.9V999M1427.5 972.9H1437.5M1427.5 999H1437.5M1489.5 951.7V993.3M1484.5 951.7H1494.5M1484.5 993.3H1494.5M1545.5 944.8V992.8M1540.5 944.8H1550.5M1540.5 992.8H1550.5M1602.5 953V995M1597.5 953H1607.5M1597.5 995H1607.5" stroke="#0000ff" stroke-opacity="0.65" stroke-width="1" fill="none"/>
<path d="M981.5 883.6V948.4M976.5 883.6H986.5M976.5 948.4H986.5M1037.5 988V998M1032.5 988H1042.5M1032.5 998H1042.5M1094.5 984V993M1089.5 984H1099.5M1089.5 993H1099.5M1150.5 983.6V991.6M1145.5 983.6H1155.5M1145.5 991.6H1155.5M1207.5 978V996M1202.5 978H1212.5M1202.5 996H1212.5M1263.5 985V993M1258.5 985H1268.5M1258.5 993H1268.5M1320.5 986V997M1315.5 986H1325.5M1315.5 997H1325.5M1376.5 981V991M1371.5 981H1381.5M1371.5 991H1381.5M1432.5 986V994M1427.5 986H1437.5M1427.5 994H1437.5M1489.5 988V997M1484.5 988H1494.5M1484.5 997H1494.5M1545.5 986V995M1540.5 986H1550.5M1540.5 995H1550.5M1602.5 986V994M1597.5 986H1607.5M1597.5 994H1607.5M981.5 939.6V999M976.5 939.6H986.5M976.5 999H986.5M1037.5 998V1008M1032.5 998H1042.5M1032.5 1008H1042.5M1094.5 1000V1008M1089.5 1000H1099.5M1089.5 1008H1099.5M1150.5 994V1003.6M1145.5 994H1155.5M1145.5 1003.6H1155.5M1207.5 992V1002M1202.5 992H1212.5M1202.5 1002H1212.5M1263.5 997V1005M1258.5 997H1268.5M1258.5 1005H1268.5M1320.5 993V1003M1315.5 993H1325.5M1315.5 1003H1325.5M1376.5 993V1002M1371.5 993H1381.5M1371.5 1002H1381.5M1432.5 993V1002M1427.5 993H1437.5M1427.5 1002H1437.5M1489.5 993V1002M1484.5 993H1494.5M1484.5 1002H1494.5M1545.5 990V998M1540.5 990H1550.5M1540.5 998H1550.5M1602.5 990V999M1597.5 990H1607.5M1597.5 999H1607.5" stroke="#ff0000" stroke-opacity="0.65" stroke-width="1" fill="none"/>
<text class="lb b" transform="translate(990.61 896) scale(0.95 1)">B</text>
<text class="lb b" transform="translate(1047.21 985.4) scale(0.95 1)">B</text>
<text class="lb b" transform="translate(1101.21 974.6) scale(0.95 1)">B</text>
<text class="lb b" transform="translate(1158.89 969.4) scale(0.95 1)">C</text>
<text class="lb b" transform="translate(1219.81 963.4) scale(0.95 1)">B</text>
<text class="lb b" transform="translate(1278.21 945.4) scale(0.95 1)">B</text>
<text class="lb b" transform="translate(1386.11 941.6) scale(0.95 1)">B</text>
<text class="lb b" transform="translate(1445.81 953.3) scale(0.95 1)">B</text>
<text class="lb b" transform="translate(1503.61 763.7) scale(0.95 1)">B</text>
<text class="lb b" transform="translate(1558.11 903.8) scale(0.95 1)">B</text>
<text class="lb b" transform="translate(1614.31 822.5) scale(0.95 1)">B</text>
<text class="lb r" transform="translate(991.81 927.4) scale(0.95 1)">B</text>
<text class="lb r" transform="translate(1049.21 967.4) scale(0.95 1)">B</text>
<text class="lb r" transform="translate(1102.21 993) scale(0.95 1)">B</text>
<text class="lb r" transform="translate(1159.21 989.4) scale(0.95 1)">BC</text>
<text class="lb r" transform="translate(1224.96 990) scale(0.95 1)">A</text>
<text class="lb r" transform="translate(1276.96 990) scale(0.95 1)">A</text>
<text class="lb r" transform="translate(1387.86 980.7) scale(0.95 1)">A</text>
<text class="lb r" transform="translate(1443.46 1003.8) scale(0.95 1)">A</text>
<text class="lb r" transform="translate(1499.76 996.6) scale(0.95 1)">A</text>
<text class="lb r" transform="translate(1555.76 1001.3) scale(0.95 1)">A</text>
<text class="lb r" transform="translate(1614.46 1001.7) scale(0.95 1)">A</text>
<text class="lb b" transform="translate(994.36 1005.4) scale(0.95 1)">A</text>
<text class="lb b" transform="translate(1049.96 1003.4) scale(0.95 1)">AB</text>
<text class="lb b" transform="translate(1102.36 1029.4) scale(0.95 1)">A</text>
<text class="lb b" transform="translate(1160.96 1007.4) scale(0.95 1)">AB</text>
<text class="lb b" transform="translate(1224.96 1006) scale(0.95 1)">A</text>
<text class="lb b" transform="translate(1276.96 1006) scale(0.95 1)">A</text>
<text class="lb b" transform="translate(1387.86 998.6) scale(0.95 1)">A</text>
<text class="lb b" transform="translate(1444.96 986.3) scale(0.95 1)">A</text>
<text class="lb b" transform="translate(1499.76 978.6) scale(0.95 1)">A</text>
<text class="lb b" transform="translate(1555.76 978) scale(0.95 1)">A</text>
<text class="lb b" transform="translate(1615.56 978.6) scale(0.95 1)">A</text>
<text class="lb r" transform="translate(992.96 979.4) scale(0.95 1)">A</text>
<text class="lb r" transform="translate(1051.56 1019) scale(0.95 1)">A</text>
<text class="lb r" transform="translate(1105.56 1012) scale(0.95 1)">A</text>
<text class="lb r" transform="translate(1160.96 1025.4) scale(0.95 1)">A</text>
<text class="lb r" transform="translate(1223.96 1023.4) scale(0.95 1)">A</text>
<text class="lb r" transform="translate(1276.96 1025.4) scale(0.95 1)">A</text>
<text class="lb r" transform="translate(1385.76 1018.2) scale(0.95 1)">A</text>
<text class="lb r" transform="translate(1444.06 1021.3) scale(0.95 1)">A</text>
<text class="lb r" transform="translate(1498.46 1019.2) scale(0.95 1)">A</text>
<text class="lb r" transform="translate(1553.76 1023.4) scale(0.95 1)">A</text>
<text class="lb r" transform="translate(1614.46 1020.3) scale(0.95 1)">A</text>
<text class="ns" transform="translate(1300.56 896.6) scale(0.95 1)">n.s.</text>
<rect x="151" y="1392.1" width="14.6" height="14.6" fill="#0000ff"/>
<rect x="207.45" y="1541.9" width="14.6" height="14.6" fill="#0000ff"/>
<rect x="263.9" y="1528" width="14.6" height="14.6" fill="#0000ff"/>
<rect x="320.35" y="1527.2" width="14.6" height="14.6" fill="#0000ff"/>
<rect x="376.8" y="1448.7" width="14.6" height="14.6" fill="#0000ff"/>
<rect x="433.25" y="1451.3" width="14.6" height="14.6" fill="#0000ff"/>
<rect x="489.7" y="1506" width="14.6" height="14.6" fill="#0000ff"/>
<rect x="546.15" y="1488.6" width="14.6" height="14.6" fill="#0000ff"/>
<rect x="602.6" y="1510.2" width="14.6" height="14.6" fill="#0000ff"/>
<rect x="659.05" y="1328.3" width="14.6" height="14.6" fill="#0000ff"/>
<rect x="715.5" y="1445" width="14.6" height="14.6" fill="#0000ff"/>
<rect x="771.95" y="1390.2" width="14.6" height="14.6" fill="#0000ff"/>
<rect x="151" y="1434.6" width="14.6" height="14.6" fill="#ff0000"/>
<rect x="207.45" y="1536.7" width="14.6" height="14.6" fill="#ff0000"/>
<rect x="263.9" y="1535.9" width="14.6" height="14.6" fill="#ff0000"/>
<rect x="320.35" y="1544.7" width="14.6" height="14.6" fill="#ff0000"/>
<rect x="376.8" y="1549.7" width="14.6" height="14.6" fill="#ff0000"/>
<rect x="433.25" y="1549.5" width="14.6" height="14.6" fill="#ff0000"/>
<rect x="489.7" y="1553.2" width="14.6" height="14.6" fill="#ff0000"/>
<rect x="546.15" y="1554.5" width="14.6" height="14.6" fill="#ff0000"/>
<rect x="602.6" y="1558.2" width="14.6" height="14.6" fill="#ff0000"/>
<rect x="659.05" y="1558.2" width="14.6" height="14.6" fill="#ff0000"/>
<rect x="715.5" y="1554" width="14.6" height="14.6" fill="#ff0000"/>
<rect x="771.95" y="1553.2" width="14.6" height="14.6" fill="#ff0000"/>
<circle cx="158.3" cy="1549.6" r="7.9" fill="#0000ff"/>
<circle cx="214.75" cy="1545" r="7.9" fill="#0000ff"/>
<circle cx="271.2" cy="1572" r="7.9" fill="#0000ff"/>
<circle cx="327.65" cy="1562" r="7.9" fill="#0000ff"/>
<circle cx="384.1" cy="1565.6" r="7.9" fill="#0000ff"/>
<circle cx="440.55" cy="1561.8" r="7.9" fill="#0000ff"/>
<circle cx="497" cy="1535.5" r="7.9" fill="#0000ff"/>
<circle cx="553.45" cy="1549.3" r="7.9" fill="#0000ff"/>
<circle cx="609.9" cy="1548.1" r="7.9" fill="#0000ff"/>
<circle cx="666.35" cy="1549.3" r="7.9" fill="#0000ff"/>
<circle cx="722.8" cy="1541.4" r="7.9" fill="#0000ff"/>
<circle cx="779.25" cy="1549.3" r="7.9" fill="#0000ff"/>
<circle cx="158.3" cy="1507" r="7.9" fill="#ff0000"/>
<circle cx="214.75" cy="1564.4" r="7.9" fill="#ff0000"/>
<circle cx="271.2" cy="1569.6" r="7.9" fill="#ff0000"/>
<circle cx="327.65" cy="1559.6" r="7.9" fill="#ff0000"/>
<circle cx="384.1" cy="1559" r="7.9" fill="#ff0000"/>
<circle cx="440.55" cy="1565.5" r="7.9" fill="#ff0000"/>
<circle cx="497" cy="1558.8" r="7.9" fill="#ff0000"/>
<circle cx="553.45" cy="1556.8" r="7.9" fill="#ff0000"/>
<circle cx="609.9" cy="1561.3" r="7.9" fill="#ff0000"/>
<circle cx="666.35" cy="1561.3" r="7.9" fill="#ff0000"/>
<circle cx="722.8" cy="1556.8" r="7.9" fill="#ff0000"/>
<circle cx="779.25" cy="1561.8" r="7.9" fill="#ff0000"/>
<path d="M158.5 1352.3V1445.7M153.5 1352.3H163.5M153.5 1445.7H163.5M214.5 1544V1554M209.5 1544H219.5M209.5 1554H219.5M271.5 1515.3V1555.3M266.5 1515.3H276.5M266.5 1555.3H276.5M327.5 1526.7V1542.3M322.5 1526.7H332.5M322.5 1542.3H332.5M384.5 1441.4V1470.2M379.5 1441.4H389.5M379.5 1470.2H389.5M440.5 1426.6V1490.6M435.5 1426.6H445.5M435.5 1490.6H445.5M497.5 1469.8V1556.8M492.5 1469.8H502.5M492.5 1556.8H502.5M553.5 1456.9V1534.9M548.5 1456.9H558.5M548.5 1534.9H558.5M609.5 1479.8V1555.2M604.5 1479.8H614.5M604.5 1555.2H614.5M666.5 1190.9V1479.3M661.5 1190.9H671.5M661.5 1479.3H671.5M722.5 1392.5V1512.1M717.5 1392.5H727.5M717.5 1512.1H727.5M779.5 1249.7V1545.3M774.5 1249.7H784.5M774.5 1545.3H784.5M158.5 1546V1553M153.5 1546H163.5M153.5 1553H163.5M214.5 1540V1550M209.5 1540H219.5M209.5 1550H219.5M271.5 1569V1575M266.5 1569H276.5M266.5 1575H276.5M327.5 1557V1567M322.5 1557H332.5M322.5 1567H332.5M384.5 1562V1569M379.5 1562H389.5M379.5 1569H389.5M440.5 1557V1566M435.5 1557H445.5M435.5 1566H445.5M497.5 1480.3V1590.5M492.5 1480.3H502.5M492.5 1590.5H502.5M553.5 1545V1553M548.5 1545H558.5M548.5 1553H558.5M609.5 1544V1552M604.5 1544H614.5M604.5 1552H614.5M666.5 1532.4V1566.2M661.5 1532.4H671.5M661.5 1566.2H671.5M722.5 1537V1546M717.5 1537H727.5M717.5 1546H727.5M779.5 1530V1568.6M774.5 1530H784.5M774.5 1568.6H784.5" stroke="#0000ff" stroke-opacity="0.65" stroke-width="1" fill="none"/>
<path d="M158.5 1404.5V1478.8M153.5 1404.5H163.5M153.5 1478.8H163.5M214.5 1539.5V1548.5M209.5 1539.5H219.5M209.5 1548.5H219.5M271.5 1539V1547.4M266.5 1539H276.5M266.5 1547.4H276.5M327.5 1547V1557M322.5 1547H332.5M322.5 1557H332.5M384.5 1549.6V1564.4M379.5 1549.6H389.5M379.5 1564.4H389.5M440.5 1552V1561M435.5 1552H445.5M435.5 1561H445.5M497.5 1556V1565M492.5 1556H502.5M492.5 1565H502.5M553.5 1554.4V1569.2M548.5 1554.4H558.5M548.5 1569.2H558.5M609.5 1561V1570M604.5 1561H614.5M604.5 1570H614.5M666.5 1561V1570M661.5 1561H671.5M661.5 1570H671.5M722.5 1557V1566M717.5 1557H727.5M717.5 1566H727.5M779.5 1556V1565M774.5 1556H784.5M774.5 1565H784.5M158.5 1462.2V1551.8M153.5 1462.2H163.5M153.5 1551.8H163.5M214.5 1560V1569M209.5 1560H219.5M209.5 1569H219.5M271.5 1566V1573M266.5 1566H276.5M266.5 1573H276.5M327.5 1555V1564M322.5 1555H332.5M322.5 1564H332.5M384.5 1555V1563M379.5 1555H389.5M379.5 1563H389.5M440.5 1561V1570M435.5 1561H445.5M435.5 1570H445.5M497.5 1554V1563M492.5 1554H502.5M492.5 1563H502.5M553.5 1552V1561M548.5 1552H558.5M548.5 1561H558.5M609.5 1557V1566M604.5 1557H614.5M604.5 1566H614.5M666.5 1557V1566M661.5 1557H671.5M661.5 1566H671.5M722.5 1552V1561M717.5 1552H727.5M717.5 1561H727.5M779.5 1557V1566M774.5 1557H784.5M774.5 1566H784.5" stroke="#ff0000" stroke-opacity="0.65" stroke-width="1" fill="none"/>
<text class="lb b" transform="translate(171.89 1407.3) scale(0.95 1)">C</text>
<text class="lb b" transform="translate(227.61 1561) scale(0.95 1)">B</text>
<text class="lb b" transform="translate(280.21 1537.4) scale(0.95 1)">B</text>
<text class="lb b" transform="translate(336.21 1529) scale(0.95 1)">B</text>
<text class="lb b" transform="translate(395.21 1461.4) scale(0.95 1)">B</text>
<text class="lb b" transform="translate(451.01 1467) scale(0.95 1)">B</text>
<text class="lb b" transform="translate(563.61 1501.9) scale(0.95 1)">B</text>
<text class="lb b" transform="translate(623.21 1526.7) scale(0.95 1)">B</text>
<text class="lb b" transform="translate(679.01 1341.2) scale(0.95 1)">B</text>
<text class="lb b" transform="translate(735.71 1463.1) scale(0.95 1)">B</text>
<text class="lb b" transform="translate(790.61 1405) scale(0.95 1)">B</text>
<text class="lb r" transform="translate(168.21 1450.5) scale(0.95 1)">BC</text>
<text class="lb r" transform="translate(227.61 1519.4) scale(0.95 1)">B</text>
<text class="lb r" transform="translate(280.21 1554.4) scale(0.95 1)">B</text>
<text class="lb r" transform="translate(337.96 1551) scale(0.95 1)">A</text>
<text class="lb r" transform="translate(390.96 1545) scale(0.95 1)">A</text>
<text class="lb r" transform="translate(451.76 1550.3) scale(0.95 1)">A</text>
<text class="lb r" transform="translate(562.86 1582.1) scale(0.95 1)">A</text>
<text class="lb r" transform="translate(620.76 1585.9) scale(0.95 1)">A</text>
<text class="lb r" transform="translate(677.16 1585.6) scale(0.95 1)">A</text>
<text class="lb r" transform="translate(733.56 1577.2) scale(0.95 1)">A</text>
<text class="lb r" transform="translate(790.16 1565.2) scale(0.95 1)">A</text>
<text class="lb b" transform="translate(174.96 1559) scale(0.95 1)">A</text>
<text class="lb b" transform="translate(227.61 1541) scale(0.95 1)">B</text>
<text class="lb b" transform="translate(281.96 1588) scale(0.95 1)">A</text>
<text class="lb b" transform="translate(336.96 1588) scale(0.95 1)">A</text>
<text class="lb b" transform="translate(391.96 1583) scale(0.95 1)">A</text>
<text class="lb b" transform="translate(450.96 1572.7) scale(0.95 1)">A</text>
<text class="lb b" transform="translate(562.86 1550.3) scale(0.95 1)">A</text>
<text class="lb b" transform="translate(622.46 1554.1) scale(0.95 1)">AB</text>
<text class="lb b" transform="translate(679.66 1554.1) scale(0.95 1)">A</text>
<text class="lb b" transform="translate(735.56 1549.1) scale(0.95 1)">A</text>
<text class="lb b" transform="translate(792.66 1549.8) scale(0.95 1)">A</text>
<text class="lb r" transform="translate(169.96 1516.6) scale(0.95 1)">AB</text>
<text class="lb r" transform="translate(228.36 1580) scale(0.95 1)">A</text>
<text class="lb r" transform="translate(282.96 1573) scale(0.95 1)">A</text>
<text class="lb r" transform="translate(337.96 1570) scale(0.95 1)">A</text>
<text class="lb r" transform="translate(391.96 1562) scale(0.95 1)">A</text>
<text class="lb r" transform="translate(450.26 1587.1) scale(0.95 1)">A</text>
<text class="lb r" transform="translate(564.06 1566.5) scale(0.95 1)">A</text>
<text class="lb r" transform="translate(621.26 1571.5) scale(0.95 1)">A</text>
<text class="lb r" transform="translate(678.36 1572.2) scale(0.95 1)">A</text>
<text class="lb r" transform="translate(734.26 1564) scale(0.95 1)">A</text>
<text class="lb r" transform="translate(790.16 1579.7) scale(0.95 1)">A</text>
<text class="ns" transform="translate(481.96 1462.9) scale(0.95 1)">n.s.</text>
<rect x="974.1" y="1413.7" width="14.6" height="14.6" fill="#0000ff"/>
<rect x="1030.55" y="1518.7" width="14.6" height="14.6" fill="#0000ff"/>
<rect x="1087" y="1467.7" width="14.6" height="14.6" fill="#0000ff"/>
<rect x="1143.45" y="1383.7" width="14.6" height="14.6" fill="#0000ff"/>
<rect x="1199.9" y="1398.7" width="14.6" height="14.6" fill="#0000ff"/>
<rect x="1256.35" y="1399.1" width="14.6" height="14.6" fill="#0000ff"/>
<rect x="1312.8" y="1386.5" width="14.6" height="14.6" fill="#0000ff"/>
<rect x="1369.25" y="1332.4" width="14.6" height="14.6" fill="#0000ff"/>
<rect x="1425.7" y="1279.4" width="14.6" height="14.6" fill="#0000ff"/>
<rect x="1482.15" y="1273.4" width="14.6" height="14.6" fill="#0000ff"/>
<rect x="1538.6" y="1319.7" width="14.6" height="14.6" fill="#0000ff"/>
<rect x="1595.05" y="1241.8" width="14.6" height="14.6" fill="#0000ff"/>
<rect x="974.1" y="1435.7" width="14.6" height="14.6" fill="#ff0000"/>
<rect x="1030.55" y="1470.7" width="14.6" height="14.6" fill="#ff0000"/>
<rect x="1087" y="1386.7" width="14.6" height="14.6" fill="#ff0000"/>
<rect x="1143.45" y="1274.3" width="14.6" height="14.6" fill="#ff0000"/>
<rect x="1199.9" y="1259.7" width="14.6" height="14.6" fill="#ff0000"/>
<rect x="1256.35" y="1313.7" width="14.6" height="14.6" fill="#ff0000"/>
<rect x="1312.8" y="1356.8" width="14.6" height="14.6" fill="#ff0000"/>
<rect x="1369.25" y="1275" width="14.6" height="14.6" fill="#ff0000"/>
<rect x="1425.7" y="1302.7" width="14.6" height="14.6" fill="#ff0000"/>
<rect x="1482.15" y="1290" width="14.6" height="14.6" fill="#ff0000"/>
<rect x="1538.6" y="1274.1" width="14.6" height="14.6" fill="#ff0000"/>
<rect x="1595.05" y="1267.3" width="14.6" height="14.6" fill="#ff0000"/>
<circle cx="981.4" cy="1428" r="7.9" fill="#0000ff"/>
<circle cx="1037.85" cy="1486.4" r="7.9" fill="#0000ff"/>
<circle cx="1094.3" cy="1427" r="7.9" fill="#0000ff"/>
<circle cx="1150.75" cy="1431.6" r="7.9" fill="#0000ff"/>
<circle cx="1207.2" cy="1412" r="7.9" fill="#0000ff"/>
<circle cx="1263.65" cy="1406" r="7.9" fill="#0000ff"/>
<circle cx="1320.1" cy="1436.9" r="7.9" fill="#0000ff"/>
<circle cx="1376.55" cy="1374.7" r="7.9" fill="#0000ff"/>
<circle cx="1433" cy="1331.2" r="7.9" fill="#0000ff"/>
<circle cx="1489.45" cy="1343.5" r="7.9" fill="#0000ff"/>
<circle cx="1545.9" cy="1362.6" r="7.9" fill="#0000ff"/>
<circle cx="1602.35" cy="1331.2" r="7.9" fill="#0000ff"/>
<circle cx="981.4" cy="1405.6" r="7.9" fill="#ff0000"/>
<circle cx="1037.85" cy="1448.4" r="7.9" fill="#ff0000"/>
<circle cx="1094.3" cy="1464" r="7.9" fill="#ff0000"/>
<circle cx="1150.75" cy="1410" r="7.9" fill="#ff0000"/>
<circle cx="1207.2" cy="1398" r="7.9" fill="#ff0000"/>
<circle cx="1263.65" cy="1406" r="7.9" fill="#ff0000"/>
<circle cx="1320.1" cy="1350.3" r="7.9" fill="#ff0000"/>
<circle cx="1376.55" cy="1344.6" r="7.9" fill="#ff0000"/>
<circle cx="1433" cy="1329.5" r="7.9" fill="#ff0000"/>
<circle cx="1489.45" cy="1344.4" r="7.9" fill="#ff0000"/>
<circle cx="1545.9" cy="1304.1" r="7.9" fill="#ff0000"/>
<circle cx="1602.35" cy="1307.9" r="7.9" fill="#ff0000"/>
<path d="M981.5 1399V1443M976.5 1399H986.5M976.5 1443H986.5M1037.5 1500V1553M1032.5 1500H1042.5M1032.5 1553H1042.5M1094.5 1442.4V1507.6M1089.5 1442.4H1099.5M1089.5 1507.6H1099.5M1150.5 1368.6V1413.4M1145.5 1368.6H1155.5M1145.5 1413.4H1155.5M1207.5 1327.4V1474.3M1202.5 1327.4H1212.5M1202.5 1474.3H1212.5M1263.5 1373V1440M1258.5 1373H1268.5M1258.5 1440H1268.5M1320.5 1362V1425.6M1315.5 1362H1325.5M1315.5 1425.6H1325.5M1376.5 1226.2V1453.2M1371.5 1226.2H1381.5M1371.5 1453.2H1381.5M1432.5 1258.7V1316.4M1427.5 1258.7H1437.5M1427.5 1316.4H1437.5M1489.5 1241.5V1320M1484.5 1241.5H1494.5M1484.5 1320H1494.5M1545.5 1306.8V1347.1M1540.5 1306.8H1550.5M1540.5 1347.1H1550.5M1602.5 1190.7V1307.5M1597.5 1190.7H1607.5M1597.5 1307.5H1607.5M981.5 1388V1467M976.5 1388H986.5M976.5 1467H986.5M1037.5 1469V1503M1032.5 1469H1042.5M1032.5 1503H1042.5M1094.5 1423V1431M1089.5 1423H1099.5M1089.5 1431H1099.5M1150.5 1409.6V1453.6M1145.5 1409.6H1155.5M1145.5 1453.6H1155.5M1207.5 1367V1456M1202.5 1367H1212.5M1202.5 1456H1212.5M1263.5 1380.4V1431M1258.5 1380.4H1268.5M1258.5 1431H1268.5M1320.5 1425.6V1447.5M1315.5 1425.6H1325.5M1315.5 1447.5H1325.5M1376.5 1345V1404.4M1371.5 1345H1381.5M1371.5 1404.4H1381.5M1432.5 1264.4V1398M1427.5 1264.4H1437.5M1427.5 1398H1437.5M1489.5 1295.7V1391.3M1484.5 1295.7H1494.5M1484.5 1391.3H1494.5M1545.5 1322.3V1402.9M1540.5 1322.3H1550.5M1540.5 1402.9H1550.5M1602.5 1303V1359.4M1597.5 1303H1607.5M1597.5 1359.4H1607.5" stroke="#0000ff" stroke-opacity="0.65" stroke-width="1" fill="none"/>
<path d="M981.5 1423.6V1462.6M976.5 1423.6H986.5M976.5 1462.6H986.5M1037.5 1473V1483M1032.5 1473H1042.5M1032.5 1483H1042.5M1094.5 1382V1406M1089.5 1382H1099.5M1089.5 1406H1099.5M1150.5 1236.6V1327M1145.5 1236.6H1155.5M1145.5 1327H1155.5M1207.5 1176.4V1357.6M1202.5 1176.4H1212.5M1202.5 1357.6H1212.5M1263.5 1255.6V1386.4M1258.5 1255.6H1268.5M1258.5 1386.4H1268.5M1320.5 1317.9V1409.7M1315.5 1317.9H1325.5M1315.5 1409.7H1325.5M1376.5 1175.8V1388.5M1371.5 1175.8H1381.5M1371.5 1388.5H1381.5M1432.5 1285.6V1334.4M1427.5 1285.6H1437.5M1427.5 1334.4H1437.5M1489.5 1279.2V1315.3M1484.5 1279.2H1494.5M1484.5 1315.3H1494.5M1545.5 1268V1297.3M1540.5 1268H1550.5M1540.5 1297.3H1550.5M1602.5 1254.4V1295.2M1597.5 1254.4H1607.5M1597.5 1295.2H1607.5M981.5 1362V1449.2M976.5 1362H986.5M976.5 1449.2H986.5M1037.5 1434.4V1462.4M1032.5 1434.4H1042.5M1032.5 1462.4H1042.5M1094.5 1441.6V1487.4M1089.5 1441.6H1099.5M1089.5 1487.4H1099.5M1150.5 1397.6V1422.4M1145.5 1397.6H1155.5M1145.5 1422.4H1155.5M1207.5 1383.4V1413.4M1202.5 1383.4H1212.5M1202.5 1413.4H1212.5M1263.5 1397V1415M1258.5 1397H1268.5M1258.5 1415H1268.5M1320.5 1305.8V1394.8M1315.5 1305.8H1325.5M1315.5 1394.8H1325.5M1376.5 1303.2V1386M1371.5 1303.2H1381.5M1371.5 1386H1381.5M1432.5 1261.6V1397.4M1427.5 1261.6H1437.5M1427.5 1397.4H1437.5M1489.5 1310.3V1378.5M1484.5 1310.3H1494.5M1484.5 1378.5H1494.5M1545.5 1299V1309M1540.5 1299H1550.5M1540.5 1309H1550.5M1602.5 1302V1314M1597.5 1302H1607.5M1597.5 1314H1607.5" stroke="#ff0000" stroke-opacity="0.65" stroke-width="1" fill="none"/>
<text class="lb b" transform="translate(1048.96 1534) scale(0.95 1)">A</text>
<text class="lb b" transform="translate(1106.96 1489) scale(0.95 1)">A</text>
<text class="lb b" transform="translate(1162.36 1400) scale(0.95 1)">A</text>
<text class="lb b" transform="translate(1217.96 1413) scale(0.95 1)">A</text>
<text class="lb b" transform="translate(1276.96 1437) scale(0.95 1)">A</text>
<text class="lb b" transform="translate(1330.66 1401.2) scale(0.95 1)">AB</text>
<text class="lb b" transform="translate(1558.26 1340.3) scale(0.95 1)">AB</text>
<text class="lb b" transform="translate(1617.21 1257.5) scale(0.95 1)">B</text>
<text class="lb r" transform="translate(1045.81 1478) scale(0.95 1)">BC</text>
<text class="lb r" transform="translate(1105.21 1400) scale(0.95 1)">B</text>
<text class="lb r" transform="translate(1161.21 1290) scale(0.95 1)">B</text>
<text class="lb r" transform="translate(1219.21 1278.6) scale(0.95 1)">B</text>
<text class="lb r" transform="translate(1272.21 1332) scale(0.95 1)">B</text>
<text class="lb r" transform="translate(1331.96 1372.1) scale(0.95 1)">AB</text>
<text class="lb r" transform="translate(1559.81 1284) scale(0.95 1)">B</text>
<text class="lb r" transform="translate(1614.66 1283) scale(0.95 1)">AB</text>
<text class="lb b" transform="translate(1049.21 1498) scale(0.95 1)">B</text>
<text class="lb b" transform="translate(1106.61 1436.6) scale(0.95 1)">B</text>
<text class="lb b" transform="translate(1160.96 1441.4) scale(0.95 1)">A</text>
<text class="lb b" transform="translate(1217.96 1431) scale(0.95 1)">A</text>
<text class="lb b" transform="translate(1276.96 1420) scale(0.95 1)">A</text>
<text class="lb b" transform="translate(1332.36 1450) scale(0.95 1)">A</text>
<text class="lb b" transform="translate(1558.26 1374.2) scale(0.95 1)">A</text>
<text class="lb b" transform="translate(1614.56 1340.7) scale(0.95 1)">A</text>
<text class="lb r" transform="translate(1047.29 1456) scale(0.95 1)">C</text>
<text class="lb r" transform="translate(1107.96 1468) scale(0.95 1)">A</text>
<text class="lb r" transform="translate(1161.96 1421) scale(0.95 1)">A</text>
<text class="lb r" transform="translate(1216.36 1394.6) scale(0.95 1)">A</text>
<text class="lb r" transform="translate(1276.36 1402) scale(0.95 1)">A</text>
<text class="lb r" transform="translate(1328.91 1345.4) scale(0.95 1)">B</text>
<text class="lb r" transform="translate(1559.36 1310.6) scale(0.95 1)">AB</text>
<text class="lb r" transform="translate(1616.66 1317.4) scale(0.95 1)">AB</text>
<text class="ns" transform="translate(960.16 1347) scale(0.95 1)">n.s.</text>
<text class="ns" transform="translate(1358.86 1166.4) scale(0.95 1)">n.s.</text>
<text class="ns" transform="translate(1414.66 1250.3) scale(0.95 1)">n.s.</text>
<text class="ns" transform="translate(1470.06 1233.4) scale(0.95 1)">n.s.</text>
<rect x="151" y="2055.7" width="14.6" height="14.6" fill="#0000ff"/>
<rect x="207.45" y="1940.7" width="14.6" height="14.6" fill="#0000ff"/>
<rect x="263.9" y="1979.7" width="14.6" height="14.6" fill="#0000ff"/>
<rect x="320.35" y="2024.7" width="14.6" height="14.6" fill="#0000ff"/>
<rect x="376.8" y="2018.7" width="14.6" height="14.6" fill="#0000ff"/>
<rect x="433.25" y="2020" width="14.6" height="14.6" fill="#0000ff"/>
<rect x="489.7" y="1999.4" width="14.6" height="14.6" fill="#0000ff"/>
<rect x="546.15" y="2034.9" width="14.6" height="14.6" fill="#0000ff"/>
<rect x="602.6" y="2048.1" width="14.6" height="14.6" fill="#0000ff"/>
<rect x="659.05" y="2066" width="14.6" height="14.6" fill="#0000ff"/>
<rect x="715.5" y="2048.1" width="14.6" height="14.6" fill="#0000ff"/>
<rect x="771.95" y="2064.2" width="14.6" height="14.6" fill="#0000ff"/>
<rect x="151" y="2006.7" width="14.6" height="14.6" fill="#ff0000"/>
<rect x="207.45" y="1983.3" width="14.6" height="14.6" fill="#ff0000"/>
<rect x="263.9" y="1995.1" width="14.6" height="14.6" fill="#ff0000"/>
<rect x="320.35" y="2014.7" width="14.6" height="14.6" fill="#ff0000"/>
<rect x="376.8" y="1994.3" width="14.6" height="14.6" fill="#ff0000"/>
<rect x="433.25" y="1975.3" width="14.6" height="14.6" fill="#ff0000"/>
<rect x="489.7" y="1961.1" width="14.6" height="14.6" fill="#ff0000"/>
<rect x="546.15" y="2000.9" width="14.6" height="14.6" fill="#ff0000"/>
<rect x="602.6" y="1962.9" width="14.6" height="14.6" fill="#ff0000"/>
<rect x="659.05" y="1974" width="14.6" height="14.6" fill="#ff0000"/>
<rect x="715.5" y="1981.5" width="14.6" height="14.6" fill="#ff0000"/>
<rect x="771.95" y="1981.5" width="14.6" height="14.6" fill="#ff0000"/>
<circle cx="158.3" cy="1908.6" r="7.9" fill="#0000ff"/>
<circle cx="214.75" cy="1890" r="7.9" fill="#0000ff"/>
<circle cx="271.2" cy="1983" r="7.9" fill="#0000ff"/>
<circle cx="327.65" cy="1965" r="7.9" fill="#0000ff"/>
<circle cx="384.1" cy="1908.4" r="7.9" fill="#0000ff"/>
<circle cx="440.55" cy="1942.8" r="7.9" fill="#0000ff"/>
<circle cx="497" cy="1903.8" r="7.9" fill="#0000ff"/>
<circle cx="553.45" cy="1868.3" r="7.9" fill="#0000ff"/>
<circle cx="609.9" cy="1875.7" r="7.9" fill="#0000ff"/>
<circle cx="666.35" cy="1992.5" r="7.9" fill="#0000ff"/>
<circle cx="722.8" cy="1999.5" r="7.9" fill="#0000ff"/>
<circle cx="779.25" cy="1972.6" r="7.9" fill="#0000ff"/>
<circle cx="158.3" cy="1896" r="7.9" fill="#ff0000"/>
<circle cx="214.75" cy="1934" r="7.9" fill="#ff0000"/>
<circle cx="271.2" cy="1854" r="7.9" fill="#ff0000"/>
<circle cx="327.65" cy="1948" r="7.9" fill="#ff0000"/>
<circle cx="384.1" cy="1931" r="7.9" fill="#ff0000"/>
<circle cx="440.55" cy="1939.8" r="7.9" fill="#ff0000"/>
<circle cx="497" cy="1936.1" r="7.9" fill="#ff0000"/>
<circle cx="553.45" cy="1921.2" r="7.9" fill="#ff0000"/>
<circle cx="609.9" cy="1923.7" r="7.9" fill="#ff0000"/>
<circle cx="666.35" cy="1966.4" r="7.9" fill="#ff0000"/>
<circle cx="722.8" cy="1977.6" r="7.9" fill="#ff0000"/>
<circle cx="779.25" cy="1975.1" r="7.9" fill="#ff0000"/>
<path d="M158.5 2053V2072.4M153.5 2053H163.5M153.5 2072.4H163.5M214.5 1911V1985M209.5 1911H219.5M209.5 1985H219.5M271.5 1953.6V2020.4M266.5 1953.6H276.5M266.5 2020.4H276.5M327.5 2013.6V2046M322.5 2013.6H332.5M322.5 2046H332.5M384.5 2000.4V2051.6M379.5 2000.4H389.5M379.5 2051.6H389.5M440.5 2019V2035.5M435.5 2019H445.5M435.5 2035.5H445.5M497.5 1972.6V2041M492.5 1972.6H502.5M492.5 2041H502.5M553.5 2015V2069.5M548.5 2015H558.5M548.5 2069.5H558.5M609.5 2043V2068.3M604.5 2043H614.5M604.5 2068.3H614.5M666.5 2047.9V2100.1M661.5 2047.9H671.5M661.5 2100.1H671.5M722.5 2052V2059M717.5 2052H727.5M717.5 2059H727.5M779.5 2061.3V2080.7M774.5 2061.3H784.5M774.5 2080.7H784.5M158.5 1874V1943M153.5 1874H163.5M153.5 1943H163.5M214.5 1876.4V1903.6M209.5 1876.4H219.5M209.5 1903.6H219.5M271.5 1937.6V2029M266.5 1937.6H276.5M266.5 2029H276.5M327.5 1935.6V1995M322.5 1935.6H332.5M322.5 1995H332.5M384.5 1885.6V1931.2M379.5 1885.6H389.5M379.5 1931.2H389.5M440.5 1927.2V1957M435.5 1927.2H445.5M435.5 1957H445.5M497.5 1864V1943.6M492.5 1864H502.5M492.5 1943.6H502.5M553.5 1833V1903.6M548.5 1833H558.5M548.5 1903.6H558.5M609.5 1774V1977M604.5 1774H614.5M604.5 1977H614.5M666.5 1975.9V2009.2M661.5 1975.9H671.5M661.5 2009.2H671.5M722.5 1990.8V2008.2M717.5 1990.8H727.5M717.5 2008.2H727.5M779.5 1937.4V2007.4M774.5 1937.4H784.5M774.5 2007.4H784.5" stroke="#0000ff" stroke-opacity="0.65" stroke-width="1" fill="none"/>
<path d="M158.5 1961.4V2066M153.5 1961.4H163.5M153.5 2066H163.5M214.5 1986V1995M209.5 1986H219.5M209.5 1995H219.5M271.5 1988.6V2017M266.5 1988.6H276.5M266.5 2017H276.5M327.5 1989.6V2054.4M322.5 1989.6H332.5M322.5 2054.4H332.5M384.5 1943.6V2059.6M379.5 1943.6H389.5M379.5 2059.6H389.5M440.5 1944.6V2020.6M435.5 1944.6H445.5M435.5 2020.6H445.5M497.5 1949V1988.8M492.5 1949H502.5M492.5 1988.8H502.5M553.5 1954.5V2061.3M548.5 1954.5H558.5M548.5 2061.3H558.5M609.5 1960.2V1981.3M604.5 1960.2H614.5M604.5 1981.3H614.5M666.5 1976V1986M661.5 1976H671.5M661.5 1986H671.5M722.5 1984V1993M717.5 1984H727.5M717.5 1993H727.5M779.5 1984V1993.6M774.5 1984H784.5M774.5 1993.6H784.5M158.5 1816.4V1976M153.5 1816.4H163.5M153.5 1976H163.5M214.5 1876V1984M209.5 1876H219.5M209.5 1984H219.5M271.5 1763.6V1944.4M266.5 1763.6H276.5M266.5 1944.4H276.5M327.5 1907.6V1988.4M322.5 1907.6H332.5M322.5 1988.4H332.5M384.5 1908V1954M379.5 1908H389.5M379.5 1954H389.5M440.5 1932V1948M435.5 1932H445.5M435.5 1948H445.5M497.5 1904.3V1968M492.5 1904.3H502.5M492.5 1968H502.5M553.5 1877V1965.2M548.5 1877H558.5M548.5 1965.2H558.5M609.5 1841.4V2005.7M604.5 1841.4H614.5M604.5 2005.7H614.5M666.5 1942.8V1990M661.5 1942.8H671.5M661.5 1990H671.5M722.5 1965.2V1990M717.5 1965.2H727.5M717.5 1990H727.5M779.5 1957.7V1992.5M774.5 1957.7H784.5M774.5 1992.5H784.5" stroke="#ff0000" stroke-opacity="0.65" stroke-width="1" fill="none"/>
<text class="lb b" transform="translate(171.56 2072.6) scale(0.95 1)">A</text>
<text class="lb b" transform="translate(227.56 1957.4) scale(0.95 1)">AB</text>
<text class="lb b" transform="translate(283.21 2000) scale(0.95 1)">B</text>
<text class="lb b" transform="translate(338.96 2048) scale(0.95 1)">A</text>
<text class="lb b" transform="translate(393.56 2034.6) scale(0.95 1)">A</text>
<text class="lb b" transform="translate(452.26 2035.8) scale(0.95 1)">A</text>
<text class="lb b" transform="translate(508.16 2014.6) scale(0.95 1)">A</text>
<text class="lb b" transform="translate(564.56 2053.2) scale(0.95 1)">A</text>
<text class="lb b" transform="translate(624.26 2063.1) scale(0.95 1)">A</text>
<text class="lb b" transform="translate(677.16 2081.7) scale(0.95 1)">A</text>
<text class="lb b" transform="translate(734.96 2065.6) scale(0.95 1)">A</text>
<text class="lb b" transform="translate(789.66 2081.7) scale(0.95 1)">A</text>
<text class="lb r" transform="translate(169.96 2023.4) scale(0.95 1)">A</text>
<text class="lb r" transform="translate(224.36 2001.4) scale(0.95 1)">A</text>
<text class="lb r" transform="translate(285.56 2018) scale(0.95 1)">A</text>
<text class="lb r" transform="translate(339.56 2031) scale(0.95 1)">A</text>
<text class="lb r" transform="translate(393.56 2010.6) scale(0.95 1)">A</text>
<text class="lb r" transform="translate(449.21 1993.5) scale(0.95 1)">B</text>
<text class="lb r" transform="translate(507.46 1981.1) scale(0.95 1)">AB</text>
<text class="lb r" transform="translate(567.76 2018.4) scale(0.95 1)">A</text>
<text class="lb r" transform="translate(622.46 1976.1) scale(0.95 1)">AB</text>
<text class="lb r" transform="translate(674.21 1988.5) scale(0.95 1)">B</text>
<text class="lb r" transform="translate(732.51 1997.2) scale(0.95 1)">BC</text>
<text class="lb r" transform="translate(790.91 2005.2) scale(0.95 1)">B</text>
<text class="lb b" transform="translate(170.21 1924) scale(0.95 1)">B</text>
<text class="lb b" transform="translate(226.21 1902) scale(0.95 1)">B</text>
<text class="lb b" transform="translate(283.21 1981) scale(0.95 1)">B</text>
<text class="lb b" transform="translate(336.21 1973) scale(0.95 1)">B</text>
<text class="lb b" transform="translate(394.21 1916) scale(0.95 1)">B</text>
<text class="lb b" transform="translate(448.19 1956.2) scale(0.95 1)">C</text>
<text class="lb b" transform="translate(510.61 1912.8) scale(0.95 1)">B</text>
<text class="lb b" transform="translate(564.81 1875) scale(0.95 1)">B</text>
<text class="lb b" transform="translate(620.71 1884.9) scale(0.95 1)">B</text>
<text class="lb b" transform="translate(674.21 2005.2) scale(0.95 1)">B</text>
<text class="lb b" transform="translate(733.81 2014.6) scale(0.95 1)">B</text>
<text class="lb b" transform="translate(788.41 1968.7) scale(0.95 1)">B</text>
<text class="lb r" transform="translate(169.21 1903) scale(0.95 1)">B</text>
<text class="lb r" transform="translate(227.56 1938) scale(0.95 1)">AB</text>
<text class="lb r" transform="translate(281.81 1864) scale(0.95 1)">B</text>
<text class="lb r" transform="translate(337.21 1952) scale(0.95 1)">B</text>
<text class="lb r" transform="translate(393.21 1939) scale(0.95 1)">B</text>
<text class="lb r" transform="translate(447.49 1937.6) scale(0.95 1)">C</text>
<text class="lb r" transform="translate(510.61 1943.1) scale(0.95 1)">B</text>
<text class="lb r" transform="translate(562.81 1928.9) scale(0.95 1)">B</text>
<text class="lb r" transform="translate(622.01 1931.4) scale(0.95 1)">B</text>
<text class="lb r" transform="translate(672.21 1967.4) scale(0.95 1)">B</text>
<text class="lb r" transform="translate(731.49 1974.9) scale(0.95 1)">C</text>
<text class="lb r" transform="translate(789.71 1986.1) scale(0.95 1)">B</text>
<text class="yl" x="981.4" y="1626">1991</text>
<text class="yl" x="1037.85" y="1626">1992</text>
<text class="yl" x="1094.3" y="1626">1993</text>
<text class="yl" x="1150.75" y="1626">1994</text>
<text class="yl" x="1207.2" y="1626">1995</text>
<text class="yl" x="1263.65" y="1626">1996</text>
<text class="yl" x="1320.1" y="1626">1997</text>
<text class="yl" x="1376.55" y="1626">1998</text>
<text class="yl" x="1433" y="1626">1999</text>
<text class="yl" x="1489.45" y="1626">2000</text>
<text class="yl" x="1545.9" y="1626">2001</text>
<text class="yl" x="1602.35" y="1626">2002</text>
<text class="yl" x="158.3" y="2189.2">1991</text>
<text class="yl" x="214.75" y="2189.2">1992</text>
<text class="yl" x="271.2" y="2189.2">1993</text>
<text class="yl" x="327.65" y="2189.2">1994</text>
<text class="yl" x="384.1" y="2189.2">1995</text>
<text class="yl" x="440.55" y="2189.2">1996</text>
<text class="yl" x="497" y="2189.2">1997</text>
<text class="yl" x="553.45" y="2189.2">1998</text>
<text class="yl" x="609.9" y="2189.2">1999</text>
<text class="yl" x="666.35" y="2189.2">2000</text>
<text class="yl" x="722.8" y="2189.2">2001</text>
<text class="yl" x="779.25" y="2189.2">2002</text>
<text class="xt" x="1146.2" y="1665.3" textLength="257" lengthAdjust="spacingAndGlyphs">Successional time (year)</text>
<text class="xt" x="325.6" y="2229.2" textLength="257" lengthAdjust="spacingAndGlyphs">Successional time (year)</text>
</svg>
</body></html>
